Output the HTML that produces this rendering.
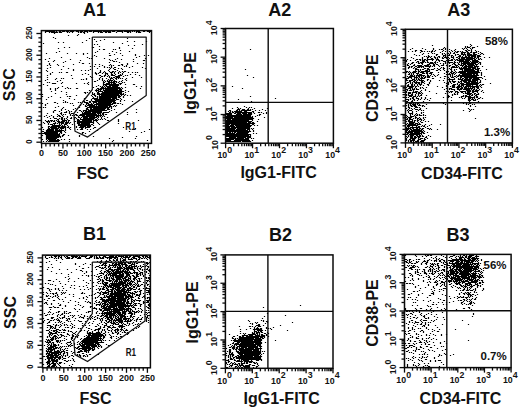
<!DOCTYPE html>
<html><head><meta charset="utf-8"><style>
html,body{margin:0;padding:0;background:#fff;width:520px;height:410px;overflow:hidden}
svg{display:block}
text{font-family:"Liberation Sans",sans-serif;fill:#111}
.tl{font-size:8.8px;font-weight:bold}
.sp{font-size:8.8px;font-weight:bold}
</style></head><body>
<svg width="520" height="410" viewBox="0 0 520 410" xmlns="http://www.w3.org/2000/svg">
<path transform="translate(.5 .5)" d="M45 31h9M56 31h0M59 31h1M62 31h2M66 31h2M70 31h3M76 31h2M80 31h2M84 31h3M89 31h2M93 31h8M103 31h7M112 31h2M117 31h5M124 31h6M132 31h0M134 31h0M136 31h3M143 31h1M147 31h3M45 32h0M49 32h0M51 32h6M59 32h2M67 32h0M69 32h0M72 32h0M78 32h0M80 32h1M83 32h1M87 32h0M93 32h0M98 32h0M100 32h2M105 32h1M108 32h2M116 32h0M122 32h0M127 32h1M130 32h0M136 32h0M138 32h2M149 32h0M54 33h0M84 33h0M78 34h0M68 35h0M77 35h0M53 37h0M55 38h0M89 38h0M127 38h0M94 39h0M104 39h0M86 40h0M100 40h0M96 41h0M127 41h0M134 41h0M146 41h0M58 42h0M63 42h0M82 42h0M113 42h0M43 43h0M122 43h0M94 44h0M97 44h0M142 44h0M470 44h0M128 45h0M134 45h0M432 45h0M471 45h0M99 46h0M465 46h0M467 46h0M470 46h0M477 46h0M64 47h0M69 47h0M92 47h1M119 47h0M444 47h0M465 47h0M467 47h2M472 47h2M58 48h0M119 48h0M132 48h0M412 48h0M422 48h0M433 48h0M443 48h0M445 48h0M462 48h0M464 48h0M466 48h0M470 48h0M472 48h0M99 49h0M103 49h1M113 49h0M115 49h0M250 49h0M410 49h0M425 49h0M433 49h0M439 49h0M441 49h1M445 49h0M449 49h0M455 49h0M463 49h0M467 49h0M471 49h0M120 50h0M415 50h1M420 50h1M432 50h0M435 50h0M443 50h0M447 50h0M451 50h0M454 50h0M465 50h1M468 50h1M471 50h0M475 50h0M59 51h0M97 51h0M112 51h0M129 51h0M408 51h0M412 51h0M415 51h0M421 51h1M424 51h0M427 51h0M429 51h0M431 51h1M434 51h0M442 51h0M445 51h0M449 51h0M452 51h0M455 51h0M457 51h1M460 51h0M462 51h0M466 51h1M471 51h0M476 51h0M478 51h0M56 52h0M95 52h0M116 52h0M420 52h0M431 52h0M440 52h0M450 52h0M454 52h0M456 52h1M461 52h4M467 52h1M470 52h1M473 52h3M480 52h0M46 53h0M67 53h0M76 53h0M83 53h0M87 53h0M109 53h0M120 53h0M423 53h0M428 53h0M432 53h0M434 53h0M442 53h0M444 53h0M447 53h1M450 53h0M453 53h1M461 53h1M464 53h0M467 53h2M473 53h1M478 53h0M481 53h1M83 54h0M114 54h0M135 54h0M414 54h0M422 54h0M436 54h1M442 54h0M445 54h0M449 54h0M455 54h0M457 54h1M461 54h4M467 54h4M473 54h3M480 54h0M483 54h0M94 55h0M109 55h1M122 55h0M135 55h0M144 55h0M148 55h0M416 55h0M419 55h0M428 55h0M436 55h0M443 55h2M447 55h2M451 55h1M455 55h0M459 55h1M463 55h0M465 55h0M467 55h8M477 55h2M92 56h0M96 56h0M139 56h0M424 56h0M426 56h0M428 56h1M431 56h0M434 56h0M438 56h1M443 56h0M445 56h0M447 56h0M451 56h0M453 56h0M458 56h2M462 56h0M465 56h1M468 56h1M471 56h4M477 56h3M61 57h0M87 57h0M136 57h0M411 57h0M422 57h0M427 57h1M430 57h0M434 57h1M437 57h0M439 57h0M442 57h0M444 57h2M448 57h0M451 57h2M456 57h1M459 57h0M461 57h11M474 57h1M477 57h1M484 57h0M489 57h0M49 58h0M89 58h0M91 58h0M104 58h0M117 58h0M145 58h0M413 58h0M422 58h0M427 58h0M431 58h1M435 58h0M437 58h0M442 58h1M446 58h1M449 58h0M453 58h0M458 58h1M461 58h3M466 58h8M476 58h0M478 58h0M480 58h0M45 59h0M70 59h0M109 59h0M115 59h0M121 59h0M133 59h0M407 59h0M416 59h1M419 59h1M422 59h0M424 59h1M427 59h6M436 59h2M448 59h0M451 59h1M454 59h0M456 59h1M459 59h13M474 59h1M478 59h1M481 59h0M54 60h0M80 60h0M110 60h0M112 60h0M143 60h1M406 60h0M410 60h0M415 60h0M420 60h0M422 60h2M426 60h1M432 60h0M436 60h0M438 60h1M441 60h1M446 60h0M448 60h4M455 60h0M457 60h6M465 60h4M472 60h5M48 61h0M53 61h0M65 61h0M113 61h1M116 61h0M133 61h0M406 61h0M417 61h1M422 61h2M427 61h0M435 61h0M439 61h0M443 61h2M448 61h0M454 61h0M459 61h9M470 61h0M472 61h6M63 62h0M79 62h0M109 62h0M119 62h0M412 62h1M416 62h0M418 62h0M420 62h3M425 62h0M427 62h1M430 62h2M434 62h1M437 62h0M445 62h0M447 62h5M454 62h1M457 62h0M459 62h0M461 62h0M463 62h6M471 62h6M479 62h1M49 63h0M82 63h1M89 63h0M127 63h0M137 63h0M143 63h0M408 63h0M411 63h1M418 63h1M421 63h1M429 63h4M435 63h0M440 63h0M443 63h0M445 63h0M447 63h0M449 63h0M453 63h1M458 63h0M461 63h14M478 63h0M480 63h0M49 64h0M57 64h0M73 64h0M95 64h0M99 64h0M110 64h0M121 64h1M127 64h0M407 64h0M410 64h0M414 64h0M422 64h0M427 64h2M433 64h1M436 64h1M443 64h0M447 64h0M452 64h0M454 64h1M458 64h1M461 64h0M463 64h2M467 64h6M475 64h2M480 64h0M47 65h0M50 65h0M58 65h0M102 65h0M109 65h0M111 65h0M113 65h0M118 65h1M122 65h0M126 65h0M407 65h1M413 65h1M417 65h4M424 65h4M430 65h0M433 65h1M438 65h0M441 65h2M446 65h0M449 65h1M455 65h2M460 65h3M465 65h1M468 65h6M476 65h0M63 66h0M90 66h0M94 66h0M99 66h0M104 66h0M111 66h0M124 66h0M126 66h0M132 66h0M409 66h0M411 66h1M415 66h1M418 66h5M425 66h5M432 66h0M434 66h0M439 66h0M447 66h0M449 66h0M452 66h2M456 66h0M458 66h0M462 66h0M464 66h8M474 66h4M482 66h0M50 67h0M104 67h0M107 67h0M109 67h0M111 67h0M114 67h1M129 67h0M142 67h0M408 67h1M411 67h0M414 67h0M417 67h2M421 67h0M423 67h0M429 67h0M441 67h0M443 67h0M451 67h6M459 67h0M461 67h0M463 67h3M468 67h7M477 67h0M47 68h0M68 68h0M97 68h0M110 68h0M113 68h0M118 68h0M121 68h0M145 68h0M408 68h0M413 68h0M415 68h1M424 68h1M427 68h1M434 68h0M437 68h0M440 68h0M443 68h1M449 68h0M451 68h0M459 68h11M472 68h3M477 68h2M61 69h0M73 69h0M90 69h0M109 69h0M114 69h1M122 69h0M245 69h0M415 69h3M420 69h0M422 69h1M427 69h2M431 69h2M438 69h1M443 69h0M447 69h0M450 69h1M454 69h0M456 69h0M460 69h2M464 69h9M475 69h3M486 69h0M46 70h0M73 70h0M81 70h0M85 70h0M88 70h0M100 70h0M108 70h0M117 70h0M415 70h0M418 70h0M420 70h0M425 70h2M429 70h0M436 70h1M440 70h0M444 70h0M451 70h0M454 70h0M462 70h0M464 70h10M477 70h1M480 70h0M47 71h0M100 71h0M104 71h0M109 71h0M112 71h1M115 71h0M119 71h0M122 71h0M124 71h1M406 71h1M409 71h0M413 71h3M418 71h1M421 71h8M446 71h0M448 71h0M451 71h1M455 71h0M459 71h19M52 72h0M59 72h0M61 72h0M66 72h1M95 72h0M99 72h1M103 72h0M105 72h0M110 72h2M114 72h0M118 72h0M120 72h0M123 72h0M128 72h0M132 72h0M135 72h0M137 72h0M406 72h0M408 72h0M410 72h0M412 72h3M418 72h0M420 72h3M426 72h1M430 72h2M438 72h0M446 72h0M450 72h1M453 72h1M456 72h0M458 72h7M467 72h12M481 72h0M50 73h0M85 73h0M95 73h1M98 73h0M102 73h0M105 73h2M111 73h0M114 73h0M118 73h0M122 73h0M409 73h0M411 73h0M413 73h0M416 73h2M422 73h2M426 73h1M429 73h2M444 73h0M449 73h0M451 73h2M455 73h0M460 73h17M481 73h0M50 74h0M82 74h0M88 74h0M96 74h0M105 74h0M107 74h0M111 74h1M115 74h0M120 74h0M122 74h0M130 74h0M135 74h0M408 74h1M411 74h0M413 74h0M417 74h0M419 74h2M427 74h0M431 74h0M433 74h0M438 74h0M446 74h0M448 74h2M452 74h0M454 74h0M459 74h0M462 74h9M473 74h1M476 74h1M481 74h0M47 75h0M71 75h0M99 75h1M104 75h1M108 75h0M111 75h3M118 75h3M125 75h0M127 75h0M139 75h0M247 75h0M410 75h2M414 75h0M416 75h8M427 75h1M430 75h0M434 75h0M437 75h0M450 75h0M452 75h0M456 75h0M458 75h20M481 75h0M90 76h0M101 76h1M104 76h0M107 76h0M109 76h0M115 76h4M123 76h0M407 76h0M409 76h5M416 76h0M418 76h1M421 76h0M423 76h0M425 76h0M427 76h2M432 76h0M435 76h0M444 76h1M447 76h0M450 76h0M452 76h0M454 76h1M457 76h1M460 76h16M484 76h0M47 77h0M91 77h1M100 77h0M109 77h0M111 77h0M113 77h1M116 77h3M132 77h0M141 77h0M253 77h0M408 77h3M414 77h3M419 77h0M421 77h1M424 77h1M427 77h2M440 77h0M448 77h0M451 77h2M456 77h0M460 77h1M464 77h17M56 78h0M61 78h0M63 78h0M72 78h0M86 78h0M99 78h0M102 78h0M106 78h0M110 78h2M115 78h1M118 78h0M120 78h0M122 78h0M126 78h0M406 78h2M411 78h0M414 78h0M416 78h0M418 78h0M420 78h4M432 78h1M444 78h0M449 78h0M454 78h0M458 78h0M460 78h0M462 78h1M465 78h2M469 78h2M473 78h5M482 78h0M47 79h0M55 79h0M81 79h0M83 79h0M86 79h0M92 79h0M99 79h0M102 79h0M108 79h0M110 79h0M113 79h0M116 79h0M125 79h0M406 79h0M412 79h2M416 79h0M418 79h1M421 79h0M427 79h1M448 79h6M458 79h4M464 79h6M472 79h7M485 79h0M45 80h0M60 80h0M97 80h0M102 80h0M104 80h0M107 80h0M109 80h3M114 80h0M122 80h0M126 80h0M406 80h1M409 80h3M414 80h1M417 80h0M419 80h4M427 80h0M430 80h0M439 80h0M443 80h0M449 80h0M452 80h0M461 80h9M472 80h5M480 80h0M57 81h0M94 81h1M103 81h0M105 81h0M107 81h2M111 81h0M113 81h3M119 81h0M121 81h0M409 81h1M413 81h1M416 81h0M421 81h1M424 81h0M430 81h0M449 81h1M452 81h3M458 81h0M460 81h1M463 81h3M468 81h7M477 81h0M480 81h0M47 82h0M49 82h0M62 82h0M88 82h0M103 82h1M108 82h6M116 82h0M118 82h0M122 82h0M124 82h0M407 82h1M410 82h0M412 82h0M414 82h5M421 82h2M429 82h0M444 82h0M447 82h1M450 82h0M453 82h1M458 82h1M461 82h0M464 82h5M471 82h6M479 82h1M52 83h3M61 83h0M76 83h0M84 83h0M87 83h0M103 83h0M106 83h3M111 83h0M113 83h2M119 83h2M406 83h0M410 83h0M412 83h0M415 83h1M418 83h1M421 83h0M424 83h0M429 83h0M446 83h0M448 83h0M451 83h0M457 83h0M460 83h3M466 83h12M490 83h0M43 84h0M88 84h0M103 84h15M120 84h0M125 84h0M133 84h1M408 84h0M411 84h1M414 84h0M417 84h0M419 84h2M427 84h1M447 84h1M453 84h2M457 84h0M459 84h0M461 84h16M480 84h0M482 84h1M47 85h0M98 85h0M103 85h0M105 85h1M109 85h9M407 85h1M411 85h1M414 85h0M417 85h0M420 85h0M423 85h0M428 85h0M446 85h0M452 85h2M458 85h1M461 85h2M466 85h4M472 85h0M476 85h1M479 85h0M481 85h0M62 86h0M96 86h0M100 86h0M102 86h0M104 86h0M106 86h4M112 86h5M136 86h0M141 86h0M232 86h0M407 86h6M415 86h1M418 86h0M437 86h0M446 86h0M450 86h0M452 86h2M457 86h4M463 86h0M465 86h13M480 86h0M58 87h0M67 87h0M93 87h0M101 87h2M105 87h0M107 87h12M121 87h0M125 87h0M406 87h0M409 87h3M415 87h0M420 87h0M422 87h0M426 87h0M442 87h0M447 87h0M452 87h2M456 87h3M461 87h1M464 87h2M468 87h0M470 87h0M472 87h2M476 87h2M481 87h0M50 88h0M55 88h0M57 88h0M65 88h0M68 88h0M70 88h0M76 88h1M97 88h1M100 88h20M122 88h0M140 88h0M242 88h0M408 88h2M412 88h0M414 88h0M416 88h0M420 88h0M423 88h0M446 88h0M449 88h2M457 88h1M460 88h2M464 88h8M474 88h0M477 88h1M50 89h0M55 89h0M96 89h0M98 89h3M103 89h0M105 89h12M119 89h2M406 89h1M410 89h0M412 89h2M416 89h2M425 89h0M444 89h0M449 89h0M451 89h3M457 89h4M463 89h6M471 89h0M473 89h1M476 89h0M479 89h0M55 90h0M89 90h0M95 90h3M100 90h0M103 90h18M125 90h0M407 90h0M409 90h2M413 90h0M421 90h0M425 90h0M447 90h0M454 90h0M459 90h0M466 90h4M472 90h1M475 90h3M482 90h0M51 91h0M61 91h0M96 91h0M98 91h4M104 91h19M128 91h0M406 91h0M413 91h0M415 91h2M420 91h0M429 91h0M446 91h0M448 91h0M450 91h2M455 91h2M460 91h5M467 91h3M472 91h5M481 91h0M66 92h0M84 92h1M87 92h0M92 92h0M97 92h1M102 92h19M125 92h0M406 92h0M408 92h2M412 92h4M418 92h1M421 92h0M449 92h0M451 92h0M455 92h0M457 92h1M461 92h1M465 92h0M467 92h2M472 92h1M477 92h0M483 92h0M55 93h0M85 93h0M92 93h0M94 93h0M97 93h2M101 93h20M123 93h0M408 93h2M412 93h0M416 93h0M418 93h2M422 93h0M436 93h0M445 93h0M447 93h0M454 93h0M457 93h0M463 93h0M465 93h6M474 93h1M478 93h0M42 94h0M66 94h0M92 94h2M97 94h21M120 94h3M125 94h0M406 94h0M408 94h0M411 94h1M415 94h0M418 94h0M421 94h0M452 94h0M454 94h1M457 94h0M467 94h3M472 94h0M474 94h0M476 94h2M76 95h0M91 95h0M94 95h1M99 95h0M101 95h18M121 95h0M124 95h0M127 95h0M130 95h0M406 95h0M408 95h4M415 95h0M418 95h0M420 95h1M426 95h0M448 95h0M452 95h0M463 95h0M465 95h1M469 95h0M471 95h1M475 95h1M42 96h0M51 96h0M67 96h0M69 96h1M92 96h0M95 96h0M97 96h0M99 96h17M118 96h2M123 96h0M250 96h0M409 96h2M413 96h2M417 96h0M419 96h0M448 96h1M461 96h2M465 96h5M474 96h0M476 96h1M48 97h0M60 97h0M93 97h0M97 97h0M99 97h17M118 97h1M123 97h0M406 97h0M408 97h0M412 97h1M416 97h0M421 97h0M425 97h0M443 97h0M447 97h1M451 97h0M459 97h0M461 97h0M465 97h0M468 97h6M476 97h1M480 97h0M69 98h0M84 98h0M92 98h5M99 98h11M112 98h4M120 98h0M275 98h0M410 98h0M412 98h1M416 98h2M421 98h0M425 98h0M430 98h0M462 98h0M464 98h0M468 98h2M472 98h0M474 98h0M478 98h1M482 98h0M46 99h0M74 99h0M91 99h0M94 99h20M116 99h2M121 99h0M238 99h0M406 99h2M410 99h0M413 99h1M418 99h0M420 99h0M424 99h0M427 99h0M468 99h1M471 99h2M475 99h0M477 99h0M63 100h0M86 100h1M91 100h0M95 100h20M120 100h0M124 100h0M408 100h0M412 100h0M414 100h0M417 100h0M429 100h0M451 100h0M468 100h2M473 100h2M65 101h0M83 101h1M89 101h1M92 101h22M120 101h0M132 101h0M251 101h0M406 101h1M411 101h1M423 101h0M469 101h0M478 101h0M54 102h1M63 102h0M65 102h0M67 102h0M78 102h0M80 102h0M84 102h3M89 102h1M93 102h3M98 102h13M113 102h2M409 102h0M411 102h0M416 102h0M420 102h0M464 102h0M469 102h0M42 103h0M47 103h0M57 103h0M70 103h0M72 103h0M86 103h2M91 103h0M93 103h0M96 103h14M112 103h3M117 103h1M120 103h0M406 103h0M409 103h2M413 103h0M415 103h0M417 103h1M443 103h0M463 103h0M466 103h0M469 103h1M45 104h0M83 104h0M86 104h0M88 104h4M94 104h18M122 104h0M408 104h0M410 104h0M412 104h3M417 104h0M419 104h0M426 104h0M445 104h0M466 104h0M468 104h0M472 104h0M474 104h0M45 105h0M73 105h0M80 105h0M85 105h0M87 105h7M96 105h0M98 105h12M114 105h0M116 105h0M406 105h0M408 105h0M410 105h1M413 105h2M418 105h2M422 105h1M470 105h0M58 106h0M85 106h1M89 106h18M109 106h2M113 106h0M115 106h0M244 106h0M408 106h0M411 106h1M414 106h2M422 106h0M424 106h0M470 106h0M475 106h0M43 107h0M45 107h0M55 107h0M63 107h0M79 107h0M87 107h22M111 107h0M237 107h0M246 107h0M249 107h0M251 107h0M408 107h1M415 107h2M419 107h0M62 108h0M75 108h0M86 108h1M90 108h1M93 108h12M107 108h1M111 108h0M232 108h0M238 108h0M240 108h0M248 108h0M254 108h0M267 108h0M406 108h0M409 108h0M411 108h0M414 108h0M420 108h0M426 108h0M468 108h0M61 109h0M65 109h0M73 109h0M86 109h2M90 109h14M107 109h2M114 109h0M136 109h0M237 109h2M242 109h2M247 109h1M250 109h0M252 109h0M262 109h0M408 109h0M412 109h0M415 109h2M419 109h1M469 109h0M471 109h0M473 109h0M54 110h1M61 110h0M68 110h0M79 110h1M83 110h3M88 110h18M111 110h0M229 110h1M236 110h1M239 110h0M241 110h9M255 110h0M259 110h0M265 110h0M407 110h0M409 110h2M418 110h0M421 110h0M423 110h0M463 110h0M470 110h0M53 111h0M59 111h0M66 111h0M69 111h0M71 111h0M81 111h0M83 111h0M85 111h16M109 111h0M228 111h0M230 111h0M232 111h0M234 111h7M244 111h2M252 111h1M408 111h0M412 111h0M416 111h0M469 111h0M53 112h0M61 112h0M64 112h2M69 112h0M77 112h0M82 112h0M84 112h6M92 112h9M103 112h5M116 112h0M127 112h0M136 112h0M229 112h1M232 112h1M235 112h16M253 112h0M258 112h1M261 112h0M266 112h0M408 112h0M412 112h0M421 112h0M423 112h0M47 113h0M60 113h1M69 113h0M71 113h2M82 113h13M97 113h3M102 113h1M226 113h5M234 113h1M237 113h3M242 113h4M248 113h3M254 113h0M263 113h0M266 113h0M409 113h3M416 113h0M421 113h0M57 114h0M61 114h0M63 114h0M65 114h0M70 114h0M75 114h1M80 114h16M98 114h0M100 114h0M102 114h1M105 114h1M127 114h0M226 114h5M236 114h5M243 114h8M259 114h1M410 114h0M412 114h0M415 114h0M417 114h0M419 114h0M423 114h0M46 115h0M51 115h0M58 115h1M62 115h0M70 115h0M72 115h0M74 115h0M76 115h1M79 115h5M86 115h15M103 115h0M227 115h23M257 115h0M259 115h0M406 115h0M410 115h0M414 115h0M416 115h1M419 115h2M423 115h0M425 115h0M44 116h0M49 116h0M53 116h0M57 116h0M59 116h1M63 116h0M67 116h0M78 116h0M82 116h12M96 116h2M100 116h0M102 116h0M104 116h0M226 116h24M252 116h0M255 116h0M407 116h0M410 116h3M415 116h0M47 117h0M53 117h0M61 117h1M67 117h0M71 117h0M74 117h1M78 117h1M81 117h0M83 117h4M89 117h7M98 117h0M101 117h0M107 117h0M226 117h6M234 117h18M264 117h0M406 117h0M408 117h3M415 117h1M419 117h0M423 117h0M425 117h0M50 118h0M54 118h2M59 118h0M61 118h1M64 118h0M66 118h0M70 118h1M74 118h0M76 118h0M80 118h0M83 118h11M97 118h0M101 118h0M104 118h0M226 118h27M407 118h0M409 118h1M413 118h0M415 118h0M417 118h1M420 118h0M423 118h0M475 118h0M57 119h1M61 119h1M64 119h0M67 119h0M74 119h0M77 119h1M80 119h13M95 119h1M98 119h0M100 119h0M102 119h0M105 119h0M118 119h0M227 119h3M232 119h20M258 119h0M406 119h1M409 119h3M417 119h0M419 119h2M424 119h0M45 120h0M48 120h0M50 120h2M54 120h0M56 120h0M58 120h0M62 120h4M68 120h1M77 120h2M82 120h9M93 120h4M107 120h1M118 120h0M138 120h0M226 120h22M252 120h0M408 120h1M412 120h0M414 120h1M417 120h1M421 120h0M423 120h0M46 121h3M51 121h0M53 121h1M57 121h2M61 121h3M66 121h0M68 121h0M74 121h1M77 121h14M93 121h0M96 121h0M118 121h0M226 121h25M257 121h0M406 121h0M408 121h4M414 121h0M417 121h0M420 121h0M425 121h0M428 121h0M43 122h0M47 122h0M49 122h0M55 122h0M58 122h5M65 122h3M70 122h0M77 122h16M97 122h0M128 122h0M226 122h20M248 122h2M252 122h1M409 122h5M418 122h0M421 122h1M44 123h0M48 123h0M53 123h2M57 123h0M59 123h0M61 123h2M65 123h2M69 123h0M77 123h2M81 123h8M93 123h0M98 123h0M118 123h0M226 123h28M407 123h0M409 123h4M415 123h2M419 123h0M48 124h0M50 124h2M54 124h0M59 124h0M61 124h0M64 124h2M72 124h0M78 124h11M91 124h1M99 124h0M226 124h3M231 124h18M252 124h1M406 124h0M408 124h7M417 124h3M425 124h0M431 124h0M440 124h0M52 125h8M62 125h0M64 125h0M67 125h0M78 125h12M93 125h0M226 125h2M230 125h3M235 125h16M254 125h0M257 125h0M407 125h10M422 125h0M424 125h0M429 125h0M48 126h1M51 126h8M61 126h4M68 126h0M76 126h0M80 126h5M87 126h3M226 126h8M236 126h14M407 126h2M412 126h0M416 126h0M418 126h1M421 126h0M423 126h1M427 126h0M42 127h0M48 127h0M50 127h6M58 127h7M67 127h1M70 127h0M76 127h0M79 127h4M85 127h4M94 127h1M123 127h0M226 127h3M231 127h18M406 127h0M408 127h0M410 127h9M425 127h0M48 128h1M51 128h7M60 128h3M65 128h0M69 128h0M81 128h1M85 128h0M93 128h0M135 128h0M226 128h9M237 128h12M251 128h0M253 128h0M406 128h4M412 128h1M416 128h1M419 128h1M422 128h1M427 128h1M430 128h0M43 129h0M47 129h6M55 129h2M59 129h0M61 129h0M65 129h0M70 129h0M77 129h0M80 129h2M87 129h0M90 129h0M149 129h0M226 129h8M236 129h9M247 129h2M252 129h0M406 129h2M410 129h1M413 129h6M421 129h1M429 129h0M431 129h0M437 129h0M46 130h7M55 130h8M65 130h0M97 130h0M226 130h21M249 130h0M253 130h0M406 130h1M409 130h0M411 130h10M423 130h0M42 131h1M46 131h15M64 131h0M89 131h0M129 131h0M144 131h0M226 131h24M253 131h0M406 131h0M408 131h14M424 131h0M44 132h13M60 132h1M65 132h0M82 132h1M141 132h0M226 132h1M229 132h1M232 132h0M234 132h1M237 132h11M406 132h6M414 132h5M421 132h2M427 132h0M42 133h15M59 133h0M61 133h0M82 133h0M85 133h0M226 133h8M236 133h11M253 133h0M256 133h0M407 133h1M410 133h11M423 133h1M45 134h14M63 134h1M226 134h24M406 134h1M409 134h10M421 134h0M42 135h0M46 135h13M62 135h1M68 135h0M79 135h0M226 135h22M250 135h0M408 135h0M410 135h3M416 135h1M419 135h1M422 135h0M428 135h0M46 136h14M62 136h0M79 136h0M93 136h0M136 136h0M226 136h24M406 136h0M408 136h0M410 136h2M414 136h1M417 136h3M422 136h1M426 136h0M430 136h0M46 137h12M60 137h0M122 137h0M229 137h6M237 137h8M247 137h3M407 137h0M410 137h2M414 137h2M418 137h1M425 137h1M46 138h10M109 138h0M135 138h0M226 138h17M245 138h3M251 138h0M253 138h0M406 138h0M410 138h5M418 138h0M420 138h2M424 138h0M427 138h0M42 139h0M46 139h0M48 139h7M57 139h1M61 139h0M64 139h0M69 139h0M226 139h7M235 139h13M406 139h0M409 139h1M412 139h2M418 139h2M424 139h1M47 140h0M49 140h10M113 140h0M147 140h0M226 140h4M234 140h15M252 140h0M406 140h0M408 140h0M410 140h4M417 140h1M421 140h3M43 141h0M46 141h0M48 141h10M69 141h0M112 141h0M226 141h14M242 141h8M408 141h0M410 141h1M413 141h0M415 141h3M420 141h3M411 142h0M413 142h1M416 142h0M418 142h0M421 142h0M423 142h0M46 255h4M52 255h9M63 255h0M68 255h1M71 255h3M76 255h0M78 255h0M80 255h0M82 255h0M86 255h1M90 255h2M95 255h1M99 255h3M104 255h0M106 255h0M108 255h0M110 255h3M116 255h3M121 255h0M123 255h8M133 255h0M135 255h2M139 255h7M149 255h0M405 255h0M415 255h0M425 255h0M427 255h1M430 255h1M441 255h0M453 255h1M460 255h0M463 255h1M466 255h0M469 255h4M476 255h0M45 256h0M51 256h0M54 256h2M58 256h1M61 256h0M64 256h0M66 256h1M71 256h6M79 256h0M81 256h5M90 256h2M94 256h0M96 256h0M99 256h0M103 256h2M109 256h4M115 256h1M118 256h5M125 256h2M129 256h1M133 256h6M142 256h1M145 256h2M149 256h0M416 256h0M422 256h0M426 256h0M436 256h0M443 256h0M450 256h2M456 256h0M458 256h0M460 256h0M462 256h0M465 256h1M468 256h3M475 256h3M45 257h0M49 257h0M51 257h1M55 257h0M58 257h0M60 257h1M65 257h0M67 257h2M72 257h1M75 257h1M78 257h2M85 257h0M89 257h2M94 257h0M96 257h1M99 257h1M102 257h1M105 257h12M121 257h0M123 257h6M132 257h2M138 257h2M143 257h0M145 257h0M147 257h2M431 257h0M435 257h0M445 257h0M449 257h0M455 257h0M459 257h4M465 257h1M468 257h2M472 257h2M476 257h0M46 258h1M54 258h0M56 258h0M58 258h0M61 258h0M66 258h3M71 258h1M77 258h3M86 258h3M94 258h0M96 258h2M100 258h3M107 258h0M109 258h2M114 258h1M117 258h0M120 258h0M122 258h0M125 258h0M128 258h0M131 258h0M133 258h3M139 258h0M141 258h1M144 258h0M146 258h0M149 258h0M424 258h0M433 258h0M436 258h0M439 258h0M451 258h0M456 258h0M459 258h2M464 258h0M467 258h2M471 258h7M62 259h0M109 259h0M113 259h0M116 259h1M120 259h0M123 259h2M128 259h4M136 259h0M138 259h1M147 259h0M405 259h1M409 259h1M416 259h0M418 259h1M429 259h0M436 259h0M438 259h0M441 259h1M452 259h10M464 259h1M468 259h2M472 259h3M477 259h0M481 259h0M56 260h0M101 260h0M106 260h0M109 260h1M113 260h1M116 260h1M120 260h0M122 260h3M137 260h0M407 260h0M409 260h0M413 260h0M424 260h0M427 260h1M431 260h0M434 260h2M439 260h1M443 260h1M448 260h10M460 260h14M476 260h0M478 260h0M481 260h0M49 261h0M97 261h0M100 261h1M105 261h3M111 261h0M115 261h0M118 261h0M120 261h1M123 261h0M126 261h0M130 261h1M133 261h0M135 261h1M141 261h0M143 261h0M405 261h1M409 261h0M411 261h0M416 261h0M418 261h0M423 261h2M427 261h0M434 261h0M436 261h0M439 261h1M444 261h0M446 261h0M450 261h3M456 261h3M461 261h1M464 261h5M471 261h2M475 261h0M477 261h0M46 262h0M60 262h0M99 262h0M101 262h0M105 262h0M109 262h2M114 262h0M116 262h0M118 262h7M127 262h1M130 262h0M134 262h0M138 262h1M146 262h1M149 262h0M406 262h1M409 262h1M416 262h1M422 262h0M426 262h1M441 262h0M443 262h0M445 262h1M449 262h0M452 262h0M455 262h3M460 262h2M464 262h0M466 262h6M478 262h0M484 262h0M75 263h0M85 263h0M100 263h0M103 263h3M112 263h1M115 263h1M118 263h4M124 263h1M128 263h2M132 263h0M134 263h0M136 263h1M146 263h2M408 263h0M411 263h1M414 263h1M421 263h0M425 263h1M430 263h0M432 263h0M434 263h0M437 263h1M443 263h0M447 263h0M449 263h19M470 263h0M472 263h6M480 263h0M51 264h0M75 264h0M83 264h0M90 264h0M102 264h1M105 264h0M109 264h0M112 264h0M114 264h5M121 264h5M131 264h3M143 264h0M147 264h0M421 264h0M426 264h0M431 264h2M435 264h0M437 264h0M444 264h1M447 264h0M452 264h2M456 264h5M463 264h9M474 264h1M477 264h1M92 265h0M99 265h0M101 265h1M104 265h2M109 265h7M118 265h2M122 265h0M125 265h2M129 265h2M134 265h0M136 265h0M140 265h0M146 265h0M407 265h0M409 265h0M411 265h0M413 265h1M430 265h0M433 265h0M437 265h1M441 265h1M447 265h2M451 265h0M453 265h7M462 265h7M471 265h0M473 265h0M476 265h1M479 265h0M79 266h0M96 266h2M105 266h0M108 266h1M113 266h0M115 266h0M117 266h0M119 266h1M122 266h0M125 266h1M128 266h1M131 266h5M138 266h0M140 266h0M142 266h1M145 266h0M147 266h1M408 266h0M412 266h1M415 266h0M417 266h0M427 266h0M430 266h2M435 266h0M438 266h0M444 266h0M446 266h0M450 266h0M452 266h26M48 267h0M52 267h0M88 267h0M95 267h0M99 267h1M102 267h0M104 267h1M108 267h0M110 267h0M112 267h0M114 267h1M117 267h4M123 267h1M126 267h6M134 267h0M137 267h0M141 267h0M148 267h0M405 267h1M410 267h4M418 267h0M425 267h1M429 267h0M432 267h0M438 267h1M444 267h0M447 267h0M449 267h1M453 267h1M456 267h16M474 267h4M82 268h1M101 268h2M106 268h0M109 268h1M117 268h5M124 268h8M134 268h1M137 268h0M139 268h1M147 268h0M409 268h2M430 268h0M433 268h0M436 268h0M438 268h0M447 268h0M450 268h0M452 268h1M456 268h1M459 268h2M463 268h13M478 268h0M480 268h0M483 268h0M47 269h0M59 269h0M67 269h0M76 269h0M96 269h0M105 269h0M108 269h4M114 269h6M123 269h1M126 269h2M130 269h3M137 269h0M140 269h0M142 269h0M144 269h0M146 269h1M149 269h0M411 269h1M415 269h0M417 269h0M419 269h0M423 269h1M429 269h1M432 269h0M434 269h0M438 269h0M442 269h2M450 269h2M454 269h6M462 269h0M464 269h7M473 269h4M481 269h0M80 270h1M101 270h0M106 270h2M111 270h3M116 270h2M120 270h0M122 270h1M125 270h0M127 270h1M133 270h1M138 270h0M142 270h0M148 270h1M408 270h0M417 270h0M424 270h0M428 270h0M430 270h0M432 270h0M436 270h0M439 270h0M441 270h0M443 270h1M449 270h4M455 270h1M458 270h3M463 270h10M475 270h0M478 270h1M483 270h0M51 271h0M82 271h0M86 271h0M91 271h0M100 271h0M104 271h1M107 271h3M112 271h1M115 271h12M129 271h0M134 271h0M139 271h0M144 271h0M146 271h0M149 271h0M415 271h0M417 271h0M422 271h0M424 271h0M428 271h0M430 271h0M432 271h0M434 271h1M437 271h1M444 271h0M446 271h2M450 271h7M459 271h12M474 271h5M481 271h0M71 272h0M86 272h0M101 272h0M104 272h0M106 272h0M108 272h1M111 272h0M113 272h9M124 272h6M133 272h4M140 272h2M146 272h0M415 272h0M417 272h1M424 272h1M432 272h0M435 272h0M441 272h1M446 272h0M448 272h0M450 272h4M456 272h2M460 272h8M470 272h0M473 272h0M475 272h0M480 272h0M482 272h0M56 273h0M61 273h0M84 273h0M99 273h4M107 273h0M109 273h11M122 273h1M125 273h3M130 273h2M134 273h0M136 273h1M139 273h1M142 273h0M148 273h0M409 273h1M415 273h0M420 273h0M424 273h2M429 273h0M431 273h1M434 273h0M438 273h0M440 273h0M442 273h0M446 273h2M450 273h7M459 273h10M471 273h5M478 273h0M481 273h0M68 274h0M97 274h0M103 274h0M106 274h0M108 274h2M112 274h4M119 274h4M126 274h3M136 274h2M140 274h0M142 274h0M145 274h0M411 274h0M417 274h1M426 274h0M432 274h1M439 274h0M443 274h0M446 274h1M449 274h4M455 274h1M459 274h11M472 274h3M479 274h1M82 275h0M86 275h0M88 275h0M91 275h0M94 275h0M100 275h1M105 275h1M108 275h0M110 275h13M126 275h3M132 275h1M136 275h1M140 275h0M143 275h0M149 275h0M410 275h0M412 275h0M419 275h0M421 275h0M428 275h0M438 275h0M440 275h0M442 275h0M444 275h0M447 275h1M450 275h0M453 275h5M461 275h7M470 275h7M479 275h0M481 275h1M68 276h0M88 276h0M96 276h0M98 276h1M104 276h0M106 276h0M110 276h0M112 276h1M115 276h8M125 276h2M129 276h1M133 276h1M136 276h2M143 276h0M412 276h0M426 276h0M429 276h0M434 276h0M437 276h0M445 276h4M451 276h0M453 276h0M455 276h11M468 276h7M477 276h3M482 276h0M65 277h0M98 277h0M101 277h0M104 277h0M106 277h1M109 277h0M111 277h0M113 277h0M115 277h7M124 277h2M128 277h0M130 277h0M134 277h2M145 277h1M148 277h1M405 277h0M408 277h0M423 277h0M428 277h1M436 277h0M439 277h0M442 277h0M444 277h0M446 277h0M449 277h0M451 277h4M457 277h2M461 277h8M471 277h5M478 277h3M483 277h0M69 278h0M78 278h0M92 278h0M99 278h0M104 278h0M106 278h1M109 278h0M111 278h2M116 278h4M122 278h3M128 278h2M133 278h2M138 278h1M141 278h0M146 278h0M148 278h1M412 278h0M418 278h0M430 278h0M434 278h0M440 278h0M445 278h0M447 278h0M450 278h10M462 278h7M471 278h0M473 278h2M479 278h0M56 279h0M68 279h0M97 279h1M100 279h0M102 279h0M105 279h1M109 279h0M112 279h2M116 279h5M123 279h0M125 279h3M130 279h0M133 279h1M136 279h0M139 279h0M149 279h0M412 279h0M418 279h0M428 279h0M430 279h0M433 279h0M443 279h0M446 279h1M451 279h1M454 279h8M464 279h0M467 279h6M475 279h0M477 279h1M48 280h2M83 280h0M90 280h0M100 280h0M102 280h1M106 280h5M113 280h0M115 280h2M119 280h0M121 280h0M123 280h6M131 280h0M134 280h0M137 280h0M139 280h0M146 280h2M410 280h0M413 280h0M423 280h0M436 280h0M439 280h0M446 280h0M448 280h3M453 280h0M455 280h6M463 280h0M465 280h2M469 280h3M474 280h3M479 280h0M481 280h1M53 281h0M59 281h0M68 281h0M74 281h0M98 281h1M102 281h1M109 281h1M112 281h0M114 281h3M119 281h3M124 281h2M128 281h0M130 281h3M137 281h3M147 281h0M149 281h0M405 281h0M423 281h0M429 281h0M435 281h0M437 281h0M441 281h1M445 281h0M448 281h3M453 281h4M459 281h0M461 281h7M471 281h6M482 281h0M86 282h0M93 282h0M97 282h0M102 282h0M104 282h3M112 282h0M114 282h0M116 282h0M118 282h7M127 282h0M129 282h1M132 282h0M134 282h0M137 282h0M143 282h0M146 282h0M427 282h0M430 282h0M434 282h2M441 282h3M449 282h0M454 282h0M456 282h0M458 282h2M462 282h2M468 282h8M479 282h1M482 282h1M45 283h0M48 283h0M60 283h0M88 283h0M92 283h0M98 283h0M100 283h0M102 283h1M105 283h2M110 283h15M127 283h4M135 283h0M137 283h0M146 283h0M406 283h1M409 283h1M412 283h0M437 283h0M440 283h0M444 283h0M451 283h0M455 283h4M462 283h0M465 283h5M475 283h0M477 283h0M479 283h1M50 284h0M52 284h0M65 284h0M103 284h3M109 284h0M111 284h12M125 284h2M129 284h2M133 284h1M136 284h0M138 284h0M141 284h1M147 284h1M413 284h0M428 284h0M436 284h1M442 284h0M444 284h0M449 284h1M456 284h1M459 284h1M465 284h2M469 284h2M475 284h2M482 284h0M55 285h0M71 285h0M74 285h0M86 285h0M96 285h0M104 285h3M109 285h11M122 285h6M130 285h0M132 285h0M135 285h0M137 285h1M140 285h0M144 285h0M147 285h0M418 285h0M428 285h0M436 285h0M441 285h0M444 285h0M453 285h0M460 285h1M463 285h0M465 285h0M467 285h2M471 285h0M473 285h1M477 285h1M480 285h0M62 286h0M79 286h0M83 286h0M93 286h0M99 286h0M101 286h0M103 286h0M105 286h0M107 286h4M113 286h6M122 286h1M125 286h1M128 286h0M131 286h0M133 286h1M137 286h2M144 286h0M149 286h0M415 286h0M433 286h0M440 286h0M445 286h0M451 286h0M455 286h0M461 286h1M464 286h2M470 286h2M477 286h0M480 286h0M43 287h0M70 287h0M87 287h0M103 287h1M106 287h0M108 287h0M110 287h3M115 287h6M123 287h3M129 287h1M133 287h1M136 287h0M146 287h0M415 287h0M425 287h0M433 287h0M452 287h0M457 287h0M459 287h0M463 287h0M465 287h0M467 287h0M469 287h0M471 287h0M477 287h0M47 288h1M55 288h0M58 288h0M63 288h0M74 288h0M90 288h0M98 288h0M100 288h0M102 288h1M106 288h1M112 288h3M117 288h3M122 288h2M127 288h5M136 288h0M139 288h0M143 288h0M145 288h4M420 288h0M434 288h0M443 288h2M458 288h0M460 288h0M464 288h0M467 288h0M470 288h0M475 288h0M483 288h0M49 289h0M51 289h0M55 289h0M58 289h0M80 289h0M84 289h0M88 289h0M96 289h0M99 289h1M102 289h2M107 289h1M110 289h3M115 289h4M121 289h4M127 289h1M130 289h1M133 289h2M138 289h1M145 289h0M149 289h0M407 289h0M431 289h0M439 289h0M441 289h0M446 289h0M463 289h1M467 289h0M469 289h0M473 289h0M475 289h0M483 289h0M49 290h0M59 290h0M62 290h0M66 290h0M99 290h0M106 290h2M111 290h1M114 290h0M116 290h8M126 290h4M140 290h1M146 290h3M419 290h0M434 290h0M443 290h0M456 290h0M460 290h0M462 290h1M466 290h2M470 290h2M475 290h0M482 290h0M50 291h0M92 291h0M101 291h0M105 291h0M108 291h4M114 291h1M117 291h9M128 291h0M134 291h1M137 291h0M139 291h1M148 291h1M413 291h1M417 291h0M432 291h0M439 291h0M474 291h0M43 292h0M46 292h0M56 292h0M61 292h0M63 292h0M65 292h0M82 292h0M97 292h1M100 292h0M102 292h6M111 292h1M114 292h7M123 292h7M132 292h0M135 292h1M140 292h0M146 292h3M433 292h0M461 292h0M465 292h0M467 292h1M470 292h0M474 292h0M476 292h0M47 293h0M50 293h0M52 293h1M55 293h1M62 293h0M64 293h0M81 293h1M84 293h0M95 293h0M99 293h1M103 293h3M108 293h0M110 293h15M127 293h0M130 293h4M140 293h0M143 293h0M149 293h0M411 293h0M422 293h0M431 293h2M459 293h0M463 293h1M466 293h0M468 293h1M43 294h0M53 294h0M57 294h0M61 294h0M69 294h0M73 294h0M92 294h0M94 294h0M100 294h0M102 294h1M107 294h1M110 294h15M127 294h2M132 294h0M134 294h0M136 294h1M139 294h1M147 294h0M149 294h0M408 294h1M418 294h0M433 294h0M442 294h0M459 294h0M464 294h0M467 294h3M472 294h1M477 294h0M46 295h0M48 295h0M55 295h0M57 295h0M89 295h0M91 295h0M99 295h0M104 295h0M106 295h0M109 295h3M114 295h12M128 295h2M132 295h0M136 295h3M144 295h0M418 295h0M429 295h1M445 295h0M468 295h0M470 295h1M475 295h0M46 296h1M50 296h0M53 296h0M55 296h0M58 296h0M73 296h0M86 296h0M98 296h0M104 296h0M106 296h17M125 296h7M135 296h0M139 296h0M143 296h1M449 296h0M457 296h0M460 296h0M463 296h0M468 296h0M470 296h0M472 296h0M52 297h0M57 297h0M65 297h0M83 297h0M87 297h0M95 297h0M97 297h0M100 297h1M103 297h2M107 297h2M111 297h4M117 297h6M125 297h3M130 297h3M138 297h0M142 297h0M144 297h0M147 297h2M408 297h0M410 297h0M416 297h0M427 297h0M454 297h0M458 297h1M461 297h2M465 297h2M469 297h0M476 297h0M48 298h1M58 298h0M79 298h0M83 298h0M92 298h0M95 298h0M101 298h1M108 298h18M128 298h1M131 298h0M138 298h1M145 298h0M147 298h0M149 298h0M438 298h0M450 298h0M457 298h0M466 298h0M472 298h0M475 298h0M44 299h0M59 299h0M62 299h0M86 299h0M100 299h4M106 299h9M117 299h8M127 299h1M131 299h1M135 299h0M149 299h0M407 299h0M412 299h0M415 299h0M440 299h0M463 299h1M467 299h0M469 299h0M471 299h0M474 299h1M47 300h0M53 300h1M70 300h0M96 300h0M102 300h23M127 300h0M131 300h0M133 300h1M136 300h4M146 300h3M417 300h0M423 300h0M430 300h0M443 300h1M458 300h0M460 300h1M464 300h0M466 300h0M470 300h0M63 301h0M75 301h0M85 301h0M88 301h0M95 301h0M99 301h0M102 301h6M110 301h11M123 301h2M127 301h1M131 301h1M134 301h0M139 301h0M143 301h0M147 301h1M428 301h0M453 301h0M463 301h0M467 301h0M469 301h0M471 301h0M45 302h1M68 302h0M78 302h0M87 302h0M89 302h1M96 302h0M98 302h1M101 302h0M104 302h2M108 302h6M116 302h8M126 302h2M131 302h0M133 302h0M143 302h1M146 302h2M413 302h0M415 302h0M433 302h0M438 302h0M442 302h0M446 302h0M449 302h0M461 302h1M470 302h1M473 302h0M44 303h0M46 303h0M51 303h0M58 303h0M90 303h0M94 303h0M100 303h0M102 303h3M107 303h0M109 303h15M126 303h5M134 303h2M138 303h1M143 303h0M149 303h0M461 303h0M464 303h0M469 303h2M474 303h0M47 304h0M51 304h0M60 304h0M78 304h0M96 304h4M102 304h0M104 304h4M110 304h15M127 304h0M130 304h0M133 304h0M135 304h0M140 304h1M148 304h1M432 304h1M436 304h0M443 304h0M446 304h0M462 304h0M466 304h0M468 304h0M470 304h0M59 305h1M65 305h0M75 305h0M80 305h0M96 305h0M99 305h0M101 305h0M103 305h2M107 305h0M109 305h23M134 305h2M140 305h0M148 305h1M300 305h0M412 305h0M417 305h0M427 305h0M472 305h0M53 306h0M65 306h0M83 306h0M90 306h1M101 306h3M106 306h10M118 306h11M131 306h0M133 306h0M140 306h0M146 306h0M149 306h0M428 306h0M430 306h0M49 307h2M54 307h1M57 307h1M82 307h0M90 307h0M94 307h0M101 307h0M103 307h3M108 307h6M116 307h0M118 307h5M125 307h0M128 307h0M132 307h2M147 307h1M263 307h0M437 307h0M468 307h1M62 308h0M74 308h0M93 308h3M99 308h0M102 308h8M113 308h4M119 308h5M126 308h4M135 308h0M138 308h0M140 308h0M148 308h1M405 308h0M415 308h0M420 308h1M431 308h0M444 308h0M463 308h1M469 308h0M50 309h0M75 309h0M79 309h0M96 309h0M99 309h2M104 309h24M130 309h1M135 309h0M141 309h0M405 309h0M416 309h0M426 309h0M430 309h0M441 309h0M445 309h0M456 309h0M471 309h0M92 310h0M100 310h1M103 310h6M111 310h0M113 310h9M124 310h0M126 310h2M130 310h0M132 310h0M138 310h0M142 310h0M146 310h0M148 310h0M407 310h0M411 310h1M414 310h0M432 310h1M441 310h0M444 310h0M49 311h0M58 311h1M64 311h0M66 311h0M77 311h0M88 311h2M97 311h0M102 311h1M107 311h0M109 311h10M122 311h4M128 311h2M132 311h2M136 311h1M139 311h0M141 311h0M406 311h1M409 311h0M412 311h0M416 311h0M419 311h0M433 311h0M48 312h0M50 312h0M56 312h0M58 312h0M64 312h0M69 312h1M86 312h0M88 312h0M96 312h0M102 312h0M104 312h7M113 312h7M122 312h3M129 312h2M134 312h2M138 312h0M141 312h0M145 312h1M148 312h1M413 312h0M419 312h0M431 312h0M442 312h0M44 313h0M53 313h0M62 313h0M64 313h0M66 313h0M68 313h0M96 313h0M99 313h0M101 313h14M117 313h3M122 313h3M128 313h4M134 313h0M147 313h0M267 313h0M410 313h1M421 313h0M428 313h0M473 313h0M47 314h0M49 314h0M52 314h0M58 314h0M61 314h1M81 314h0M102 314h0M104 314h0M106 314h8M116 314h0M118 314h4M124 314h1M131 314h1M134 314h0M144 314h0M146 314h0M406 314h0M408 314h0M412 314h0M420 314h0M426 314h0M431 314h0M436 314h0M473 314h0M45 315h1M57 315h0M60 315h0M64 315h0M70 315h0M72 315h0M74 315h0M78 315h0M84 315h0M90 315h0M97 315h1M101 315h2M105 315h2M109 315h6M117 315h0M119 315h5M130 315h1M140 315h0M147 315h2M285 315h0M407 315h0M415 315h0M421 315h0M424 315h0M57 316h0M64 316h0M68 316h0M73 316h0M80 316h0M84 316h0M87 316h0M90 316h0M92 316h0M95 316h0M100 316h1M104 316h3M109 316h2M113 316h0M115 316h1M118 316h0M120 316h5M127 316h0M130 316h1M133 316h1M145 316h0M147 316h0M264 316h0M410 316h0M423 316h1M434 316h0M472 316h0M51 317h2M59 317h0M62 317h2M72 317h0M79 317h0M81 317h2M91 317h0M94 317h0M97 317h0M103 317h0M106 317h5M113 317h0M115 317h0M117 317h1M120 317h2M124 317h1M130 317h0M132 317h0M138 317h0M142 317h0M146 317h1M407 317h0M413 317h1M417 317h0M424 317h0M428 317h0M437 317h0M443 317h0M43 318h0M51 318h1M57 318h0M60 318h0M62 318h0M66 318h0M68 318h1M75 318h0M83 318h0M87 318h0M90 318h0M92 318h0M97 318h0M99 318h0M101 318h1M105 318h0M107 318h1M110 318h2M115 318h1M118 318h3M123 318h6M133 318h0M137 318h0M141 318h0M146 318h0M148 318h0M262 318h0M410 318h0M416 318h0M425 318h1M428 318h0M47 319h1M54 319h0M56 319h0M58 319h0M67 319h0M69 319h0M90 319h0M94 319h1M100 319h0M102 319h0M107 319h2M111 319h1M114 319h0M116 319h5M123 319h3M128 319h0M130 319h0M132 319h0M136 319h1M139 319h2M146 319h0M421 319h0M436 319h0M444 319h0M44 320h0M50 320h1M53 320h0M57 320h2M66 320h1M74 320h0M78 320h0M100 320h0M102 320h0M105 320h1M109 320h2M113 320h9M125 320h0M127 320h1M130 320h1M134 320h0M136 320h0M146 320h0M148 320h0M248 320h0M261 320h0M263 320h0M411 320h1M420 320h0M423 320h3M431 320h0M434 320h0M462 320h0M43 321h0M49 321h0M59 321h0M61 321h0M68 321h0M70 321h0M79 321h2M85 321h0M93 321h0M101 321h0M106 321h0M108 321h1M111 321h0M113 321h0M115 321h0M118 321h4M124 321h6M136 321h0M140 321h0M146 321h0M249 321h0M263 321h0M266 321h1M409 321h0M415 321h0M421 321h0M433 321h0M43 322h0M48 322h1M55 322h0M58 322h0M60 322h0M64 322h0M89 322h0M101 322h0M104 322h0M107 322h1M110 322h1M113 322h1M116 322h1M119 322h3M127 322h0M133 322h0M142 322h0M148 322h0M255 322h0M257 322h0M267 322h0M292 322h0M409 322h0M412 322h0M415 322h3M422 322h0M425 322h0M428 322h0M430 322h0M47 323h0M62 323h0M71 323h0M82 323h0M88 323h0M92 323h0M99 323h0M105 323h1M111 323h4M118 323h0M121 323h0M123 323h0M127 323h0M129 323h0M132 323h0M138 323h0M250 323h0M252 323h0M256 323h0M265 323h0M406 323h0M414 323h0M421 323h0M425 323h0M53 324h0M56 324h0M60 324h0M64 324h0M66 324h0M72 324h0M97 324h0M102 324h0M106 324h0M113 324h0M115 324h3M122 324h0M124 324h1M129 324h0M135 324h0M137 324h0M252 324h0M258 324h1M408 324h0M417 324h0M420 324h1M425 324h0M428 324h0M442 324h0M468 324h0M47 325h3M55 325h1M58 325h0M61 325h0M64 325h0M67 325h0M70 325h0M74 325h0M82 325h0M85 325h0M89 325h0M98 325h0M104 325h2M110 325h0M112 325h0M119 325h3M126 325h0M128 325h0M133 325h0M256 325h3M263 325h0M280 325h0M413 325h0M423 325h1M428 325h0M435 325h0M50 326h2M55 326h0M60 326h0M72 326h0M83 326h0M95 326h1M100 326h0M104 326h0M107 326h2M113 326h0M118 326h6M139 326h0M239 326h0M249 326h1M252 326h0M255 326h0M258 326h2M415 326h0M422 326h0M424 326h0M47 327h0M50 327h1M53 327h0M55 327h0M59 327h0M65 327h0M67 327h1M72 327h0M74 327h0M86 327h0M100 327h0M103 327h1M108 327h2M112 327h3M119 327h0M121 327h1M138 327h0M254 327h0M257 327h0M266 327h0M273 327h0M408 327h0M412 327h0M426 327h0M437 327h0M50 328h0M52 328h0M54 328h1M71 328h0M78 328h0M80 328h0M88 328h1M98 328h2M107 328h0M111 328h0M117 328h0M121 328h0M124 328h0M136 328h0M250 328h0M254 328h0M256 328h2M260 328h1M266 328h0M268 328h0M270 328h0M408 328h0M412 328h0M418 328h0M420 328h0M426 328h0M49 329h0M56 329h2M62 329h0M64 329h0M91 329h0M95 329h4M102 329h0M104 329h0M107 329h0M112 329h0M115 329h3M120 329h2M126 329h0M132 329h0M240 329h0M246 329h0M253 329h8M271 329h0M412 329h0M414 329h0M428 329h0M432 329h0M439 329h0M455 329h0M46 330h2M51 330h0M53 330h3M59 330h1M63 330h2M68 330h0M81 330h0M84 330h0M88 330h0M94 330h1M98 330h0M102 330h0M104 330h0M108 330h1M111 330h0M114 330h1M117 330h1M121 330h0M123 330h0M125 330h2M133 330h0M254 330h0M257 330h5M265 330h0M287 330h0M409 330h1M421 330h1M434 330h0M49 331h0M53 331h1M56 331h1M68 331h0M70 331h1M76 331h0M80 331h0M87 331h0M92 331h0M98 331h0M101 331h0M105 331h0M111 331h0M115 331h0M117 331h0M120 331h0M124 331h0M240 331h0M254 331h2M258 331h0M260 331h1M405 331h0M408 331h0M414 331h0M420 331h0M423 331h0M432 331h0M437 331h1M49 332h2M55 332h1M58 332h1M61 332h0M63 332h1M72 332h0M75 332h0M87 332h0M89 332h1M92 332h0M96 332h3M101 332h0M105 332h0M108 332h0M112 332h0M115 332h1M118 332h0M122 332h0M124 332h1M127 332h0M252 332h0M254 332h0M256 332h3M261 332h1M267 332h0M423 332h0M48 333h0M50 333h6M67 333h0M73 333h1M87 333h13M103 333h1M112 333h1M117 333h1M128 333h0M240 333h0M243 333h0M245 333h0M252 333h2M256 333h1M259 333h0M264 333h1M268 333h0M405 333h0M408 333h1M416 333h0M430 333h0M49 334h1M52 334h0M57 334h0M60 334h1M67 334h1M72 334h0M75 334h0M88 334h2M92 334h10M105 334h0M109 334h0M117 334h0M120 334h0M127 334h0M229 334h0M244 334h0M248 334h7M257 334h0M259 334h0M261 334h1M266 334h0M406 334h0M416 334h0M418 334h0M426 334h0M433 334h0M441 334h0M446 334h0M49 335h0M51 335h0M54 335h1M58 335h0M61 335h2M69 335h0M72 335h1M78 335h0M86 335h0M88 335h15M105 335h0M110 335h0M237 335h0M242 335h5M249 335h3M255 335h4M261 335h3M266 335h0M410 335h0M421 335h0M426 335h0M429 335h0M435 335h0M441 335h0M47 336h0M49 336h0M53 336h3M61 336h0M64 336h0M66 336h0M72 336h1M75 336h0M77 336h0M84 336h0M87 336h2M91 336h10M103 336h1M111 336h0M113 336h0M116 336h0M120 336h1M233 336h1M239 336h1M242 336h1M246 336h18M268 336h0M412 336h0M418 336h0M47 337h0M50 337h0M52 337h1M55 337h0M57 337h0M59 337h1M71 337h1M77 337h0M86 337h12M100 337h0M103 337h1M110 337h1M118 337h0M121 337h0M232 337h0M239 337h19M260 337h2M264 337h0M410 337h0M412 337h0M416 337h0M429 337h0M51 338h2M55 338h1M58 338h0M64 338h0M71 338h1M81 338h0M84 338h17M103 338h0M111 338h0M116 338h0M120 338h0M232 338h1M235 338h0M237 338h0M239 338h14M255 338h5M262 338h1M408 338h0M416 338h2M422 338h0M426 338h0M428 338h0M433 338h0M46 339h0M48 339h0M50 339h3M55 339h0M66 339h0M71 339h0M74 339h0M80 339h0M83 339h15M100 339h0M102 339h0M234 339h1M238 339h23M408 339h0M422 339h0M431 339h0M436 339h0M47 340h2M51 340h1M56 340h2M60 340h0M62 340h0M64 340h0M72 340h0M82 340h19M103 340h0M105 340h0M109 340h0M114 340h0M231 340h0M233 340h19M254 340h7M275 340h0M407 340h0M410 340h0M419 340h0M424 340h0M426 340h0M468 340h0M45 341h0M47 341h0M49 341h1M56 341h2M60 341h0M70 341h0M78 341h0M81 341h16M101 341h0M234 341h26M410 341h0M414 341h1M420 341h0M426 341h0M429 341h0M444 341h0M46 342h4M52 342h1M57 342h0M59 342h0M67 342h3M77 342h0M80 342h0M82 342h21M233 342h0M237 342h2M241 342h20M265 342h0M419 342h2M424 342h0M427 342h0M433 342h0M440 342h0M48 343h0M51 343h0M53 343h0M61 343h0M66 343h0M71 343h0M74 343h0M79 343h0M81 343h1M84 343h9M95 343h3M232 343h1M235 343h3M240 343h13M255 343h6M405 343h0M408 343h1M413 343h0M416 343h0M425 343h0M440 343h0M446 343h0M47 344h0M49 344h0M51 344h0M53 344h2M58 344h0M67 344h0M70 344h0M74 344h0M77 344h0M79 344h1M82 344h13M97 344h2M106 344h0M111 344h0M230 344h0M234 344h26M414 344h0M421 344h0M425 344h0M428 344h1M44 345h0M48 345h0M50 345h1M53 345h3M58 345h0M68 345h1M71 345h1M80 345h4M86 345h10M98 345h0M100 345h0M108 345h1M228 345h0M232 345h0M234 345h0M236 345h0M239 345h16M257 345h3M406 345h0M409 345h3M434 345h0M47 346h0M50 346h5M60 346h0M62 346h0M64 346h0M66 346h0M68 346h0M70 346h0M78 346h1M81 346h8M91 346h5M98 346h1M101 346h0M231 346h0M233 346h1M237 346h20M259 346h2M409 346h0M413 346h1M420 346h0M426 346h1M441 346h0M443 346h0M48 347h5M55 347h2M59 347h0M61 347h0M75 347h0M77 347h1M82 347h8M92 347h2M97 347h0M101 347h0M229 347h1M232 347h2M236 347h1M239 347h0M241 347h5M248 347h9M260 347h0M407 347h1M411 347h0M416 347h0M420 347h1M430 347h1M46 348h0M48 348h3M53 348h3M58 348h0M60 348h0M65 348h0M67 348h0M76 348h1M79 348h13M94 348h0M98 348h0M226 348h0M232 348h2M236 348h1M239 348h4M245 348h8M255 348h6M405 348h1M416 348h0M423 348h0M437 348h0M47 349h7M60 349h0M62 349h0M64 349h0M78 349h1M82 349h4M88 349h2M92 349h2M229 349h1M233 349h0M235 349h1M238 349h20M260 349h0M416 349h0M418 349h1M428 349h0M445 349h0M46 350h0M48 350h0M50 350h2M54 350h0M57 350h1M60 350h0M63 350h0M66 350h1M80 350h1M84 350h5M92 350h1M229 350h1M236 350h0M239 350h12M253 350h5M260 350h0M408 350h0M413 350h0M415 350h0M429 350h0M432 350h0M442 350h0M46 351h5M54 351h5M61 351h3M71 351h0M78 351h4M84 351h2M88 351h0M227 351h0M229 351h1M236 351h2M240 351h20M262 351h0M264 351h0M406 351h1M415 351h0M421 351h0M423 351h0M434 351h0M47 352h0M49 352h12M64 352h0M66 352h1M73 352h1M77 352h2M86 352h0M88 352h0M229 352h1M232 352h0M237 352h23M409 352h0M411 352h0M425 352h0M46 353h3M51 353h7M60 353h0M63 353h1M67 353h0M72 353h0M82 353h1M226 353h0M229 353h0M231 353h1M238 353h22M263 353h0M413 353h0M424 353h0M444 353h0M46 354h0M48 354h4M54 354h2M58 354h2M63 354h0M67 354h0M77 354h0M79 354h0M86 354h0M89 354h1M98 354h0M229 354h4M239 354h3M244 354h15M261 354h0M419 354h0M422 354h0M424 354h0M427 354h0M439 354h0M445 354h0M453 354h0M47 355h11M61 355h0M63 355h0M65 355h0M67 355h0M71 355h1M77 355h0M79 355h1M83 355h1M87 355h0M226 355h0M228 355h0M230 355h0M232 355h1M237 355h1M240 355h18M260 355h0M439 355h0M441 355h0M450 355h0M43 356h1M46 356h2M50 356h3M55 356h2M59 356h1M62 356h0M65 356h0M69 356h0M73 356h0M80 356h0M83 356h0M85 356h0M87 356h0M228 356h0M230 356h0M232 356h0M235 356h1M238 356h14M254 356h7M413 356h0M422 356h0M427 356h0M438 356h0M47 357h13M62 357h0M68 357h0M228 357h0M230 357h0M233 357h1M236 357h24M412 357h0M415 357h0M419 357h0M422 357h0M424 357h0M426 357h0M434 357h0M47 358h5M54 358h1M58 358h2M63 358h2M72 358h0M230 358h1M233 358h0M236 358h24M406 358h0M408 358h0M413 358h0M421 358h0M434 358h0M45 359h0M48 359h1M51 359h3M56 359h1M59 359h0M62 359h0M73 359h0M228 359h0M230 359h2M234 359h0M239 359h0M241 359h20M410 359h0M418 359h0M425 359h1M48 360h1M51 360h6M64 360h1M68 360h0M70 360h0M73 360h0M226 360h2M234 360h1M237 360h2M241 360h0M243 360h5M251 360h0M256 360h2M261 360h0M408 360h0M412 360h0M419 360h0M421 360h0M430 360h0M435 360h0M438 360h2M47 361h3M52 361h5M66 361h1M74 361h0M228 361h1M236 361h6M244 361h8M422 361h0M430 361h0M435 361h0M46 362h3M52 362h1M56 362h0M59 362h2M226 362h0M228 362h0M231 362h0M234 362h0M241 362h0M244 362h0M246 362h1M249 362h2M253 362h1M256 362h0M414 362h0M441 362h0M47 363h2M51 363h4M57 363h0M59 363h1M64 363h0M226 363h0M230 363h0M232 363h1M235 363h0M238 363h1M241 363h3M246 363h1M254 363h1M257 363h0M418 363h0M424 363h0M428 363h0M43 364h0M47 364h0M49 364h1M53 364h2M58 364h0M72 364h0M227 364h0M229 364h0M232 364h0M234 364h3M239 364h0M241 364h1M249 364h1M257 364h0M407 364h0M413 364h0M419 364h0M443 364h0M48 365h1M52 365h3M59 365h0M69 365h0M230 365h2M237 365h0M239 365h4M245 365h4M252 365h2M258 365h0M407 365h0M413 365h0M415 365h0M418 365h0M425 365h0M427 365h0M47 366h2M51 366h3M56 366h0M60 366h0M71 366h0M229 366h0M231 366h0M235 366h1M238 366h0M240 366h0M243 366h6M256 366h1M407 366h0M416 366h0M423 366h0M428 366h1M439 366h0M226 367h1M235 367h0M237 367h0M239 367h0M241 367h1M244 367h5M253 367h0M256 367h0" fill="none" stroke="#000" stroke-width="1.2" stroke-linecap="square"/>
<rect x="41.4" y="30.6" width="110.1" height="112.80000000000001" fill="none" stroke="#0a0a0a" stroke-width="1.5"/><line x1="41.60" y1="143.40" x2="41.60" y2="148.40" stroke="#0a0a0a" stroke-width="1.3"/><line x1="45.87" y1="143.40" x2="45.87" y2="146.40" stroke="#0a0a0a" stroke-width="1.3"/><line x1="50.14" y1="143.40" x2="50.14" y2="146.40" stroke="#0a0a0a" stroke-width="1.3"/><line x1="54.40" y1="143.40" x2="54.40" y2="146.40" stroke="#0a0a0a" stroke-width="1.3"/><line x1="58.67" y1="143.40" x2="58.67" y2="146.40" stroke="#0a0a0a" stroke-width="1.3"/><line x1="62.94" y1="143.40" x2="62.94" y2="148.40" stroke="#0a0a0a" stroke-width="1.3"/><line x1="67.21" y1="143.40" x2="67.21" y2="146.40" stroke="#0a0a0a" stroke-width="1.3"/><line x1="71.48" y1="143.40" x2="71.48" y2="146.40" stroke="#0a0a0a" stroke-width="1.3"/><line x1="75.74" y1="143.40" x2="75.74" y2="146.40" stroke="#0a0a0a" stroke-width="1.3"/><line x1="80.01" y1="143.40" x2="80.01" y2="146.40" stroke="#0a0a0a" stroke-width="1.3"/><line x1="84.28" y1="143.40" x2="84.28" y2="148.40" stroke="#0a0a0a" stroke-width="1.3"/><line x1="88.55" y1="143.40" x2="88.55" y2="146.40" stroke="#0a0a0a" stroke-width="1.3"/><line x1="92.82" y1="143.40" x2="92.82" y2="146.40" stroke="#0a0a0a" stroke-width="1.3"/><line x1="97.08" y1="143.40" x2="97.08" y2="146.40" stroke="#0a0a0a" stroke-width="1.3"/><line x1="101.35" y1="143.40" x2="101.35" y2="146.40" stroke="#0a0a0a" stroke-width="1.3"/><line x1="105.62" y1="143.40" x2="105.62" y2="148.40" stroke="#0a0a0a" stroke-width="1.3"/><line x1="109.89" y1="143.40" x2="109.89" y2="146.40" stroke="#0a0a0a" stroke-width="1.3"/><line x1="114.16" y1="143.40" x2="114.16" y2="146.40" stroke="#0a0a0a" stroke-width="1.3"/><line x1="118.42" y1="143.40" x2="118.42" y2="146.40" stroke="#0a0a0a" stroke-width="1.3"/><line x1="122.69" y1="143.40" x2="122.69" y2="146.40" stroke="#0a0a0a" stroke-width="1.3"/><line x1="126.96" y1="143.40" x2="126.96" y2="148.40" stroke="#0a0a0a" stroke-width="1.3"/><line x1="131.23" y1="143.40" x2="131.23" y2="146.40" stroke="#0a0a0a" stroke-width="1.3"/><line x1="135.50" y1="143.40" x2="135.50" y2="146.40" stroke="#0a0a0a" stroke-width="1.3"/><line x1="139.76" y1="143.40" x2="139.76" y2="146.40" stroke="#0a0a0a" stroke-width="1.3"/><line x1="144.03" y1="143.40" x2="144.03" y2="146.40" stroke="#0a0a0a" stroke-width="1.3"/><line x1="148.30" y1="143.40" x2="148.30" y2="148.40" stroke="#0a0a0a" stroke-width="1.3"/><line x1="36.40" y1="142.20" x2="41.40" y2="142.20" stroke="#0a0a0a" stroke-width="1.3"/><line x1="38.40" y1="137.85" x2="41.40" y2="137.85" stroke="#0a0a0a" stroke-width="1.3"/><line x1="38.40" y1="133.50" x2="41.40" y2="133.50" stroke="#0a0a0a" stroke-width="1.3"/><line x1="38.40" y1="129.16" x2="41.40" y2="129.16" stroke="#0a0a0a" stroke-width="1.3"/><line x1="38.40" y1="124.81" x2="41.40" y2="124.81" stroke="#0a0a0a" stroke-width="1.3"/><line x1="36.40" y1="120.46" x2="41.40" y2="120.46" stroke="#0a0a0a" stroke-width="1.3"/><line x1="38.40" y1="116.11" x2="41.40" y2="116.11" stroke="#0a0a0a" stroke-width="1.3"/><line x1="38.40" y1="111.76" x2="41.40" y2="111.76" stroke="#0a0a0a" stroke-width="1.3"/><line x1="38.40" y1="107.42" x2="41.40" y2="107.42" stroke="#0a0a0a" stroke-width="1.3"/><line x1="38.40" y1="103.07" x2="41.40" y2="103.07" stroke="#0a0a0a" stroke-width="1.3"/><line x1="36.40" y1="98.72" x2="41.40" y2="98.72" stroke="#0a0a0a" stroke-width="1.3"/><line x1="38.40" y1="94.37" x2="41.40" y2="94.37" stroke="#0a0a0a" stroke-width="1.3"/><line x1="38.40" y1="90.02" x2="41.40" y2="90.02" stroke="#0a0a0a" stroke-width="1.3"/><line x1="38.40" y1="85.68" x2="41.40" y2="85.68" stroke="#0a0a0a" stroke-width="1.3"/><line x1="38.40" y1="81.33" x2="41.40" y2="81.33" stroke="#0a0a0a" stroke-width="1.3"/><line x1="36.40" y1="76.98" x2="41.40" y2="76.98" stroke="#0a0a0a" stroke-width="1.3"/><line x1="38.40" y1="72.63" x2="41.40" y2="72.63" stroke="#0a0a0a" stroke-width="1.3"/><line x1="38.40" y1="68.28" x2="41.40" y2="68.28" stroke="#0a0a0a" stroke-width="1.3"/><line x1="38.40" y1="63.94" x2="41.40" y2="63.94" stroke="#0a0a0a" stroke-width="1.3"/><line x1="38.40" y1="59.59" x2="41.40" y2="59.59" stroke="#0a0a0a" stroke-width="1.3"/><line x1="36.40" y1="55.24" x2="41.40" y2="55.24" stroke="#0a0a0a" stroke-width="1.3"/><line x1="38.40" y1="50.89" x2="41.40" y2="50.89" stroke="#0a0a0a" stroke-width="1.3"/><line x1="38.40" y1="46.54" x2="41.40" y2="46.54" stroke="#0a0a0a" stroke-width="1.3"/><line x1="38.40" y1="42.20" x2="41.40" y2="42.20" stroke="#0a0a0a" stroke-width="1.3"/><line x1="38.40" y1="37.85" x2="41.40" y2="37.85" stroke="#0a0a0a" stroke-width="1.3"/><line x1="36.40" y1="33.50" x2="41.40" y2="33.50" stroke="#0a0a0a" stroke-width="1.3"/><text class="tl" style="font-size:9.3px" x="41.60" y="156.20" text-anchor="middle" textLength="5.0" lengthAdjust="spacingAndGlyphs">0</text><text class="tl" style="font-size:9.3px" x="62.94" y="156.20" text-anchor="middle" textLength="10.0" lengthAdjust="spacingAndGlyphs">50</text><text class="tl" style="font-size:9.3px" x="84.28" y="156.20" text-anchor="middle" textLength="15.0" lengthAdjust="spacingAndGlyphs">100</text><text class="tl" style="font-size:9.3px" x="105.62" y="156.20" text-anchor="middle" textLength="15.0" lengthAdjust="spacingAndGlyphs">150</text><text class="tl" style="font-size:9.3px" x="126.96" y="156.20" text-anchor="middle" textLength="15.0" lengthAdjust="spacingAndGlyphs">200</text><text class="tl" style="font-size:9.3px" x="148.30" y="156.20" text-anchor="middle" textLength="15.0" lengthAdjust="spacingAndGlyphs">250</text><text class="tl" x="32.1" y="141.60" text-anchor="middle" transform="rotate(-90 32.1 141.60)" textLength="4.2" lengthAdjust="spacingAndGlyphs">0</text><text class="tl" x="32.1" y="119.86" text-anchor="middle" transform="rotate(-90 32.1 119.86)" textLength="8.4" lengthAdjust="spacingAndGlyphs">50</text><text class="tl" x="32.1" y="98.12" text-anchor="middle" transform="rotate(-90 32.1 98.12)" textLength="12.600000000000001" lengthAdjust="spacingAndGlyphs">100</text><text class="tl" x="32.1" y="76.38" text-anchor="middle" transform="rotate(-90 32.1 76.38)" textLength="12.600000000000001" lengthAdjust="spacingAndGlyphs">150</text><text class="tl" x="32.1" y="54.64" text-anchor="middle" transform="rotate(-90 32.1 54.64)" textLength="12.600000000000001" lengthAdjust="spacingAndGlyphs">200</text><text class="tl" x="32.1" y="32.90" text-anchor="middle" transform="rotate(-90 32.1 32.90)" textLength="12.600000000000001" lengthAdjust="spacingAndGlyphs">250</text><polyline points="92.3,37 146.2,37 146.2,95.6 87.6,137.1 75,131.2 73.8,113.5 92.3,89.5 92.3,37" fill="none" stroke="#111" stroke-width="1.25" stroke-linejoin="round"/><text x="130.6" y="129.6" font-size="10" font-weight="bold" text-anchor="middle" textLength="10.6" lengthAdjust="spacingAndGlyphs">R1</text><rect x="225.6" y="28.5" width="107.79999999999998" height="114.69999999999999" fill="none" stroke="#0a0a0a" stroke-width="1.5"/><line x1="225.60" y1="143.20" x2="225.60" y2="148.20" stroke="#0a0a0a" stroke-width="1.3"/><line x1="220.60" y1="143.20" x2="225.60" y2="143.20" stroke="#0a0a0a" stroke-width="1.3"/><line x1="233.71" y1="143.20" x2="233.71" y2="146.20" stroke="#0a0a0a" stroke-width="1.3"/><line x1="222.60" y1="134.57" x2="225.60" y2="134.57" stroke="#0a0a0a" stroke-width="1.3"/><line x1="238.46" y1="143.20" x2="238.46" y2="146.20" stroke="#0a0a0a" stroke-width="1.3"/><line x1="222.60" y1="129.52" x2="225.60" y2="129.52" stroke="#0a0a0a" stroke-width="1.3"/><line x1="241.83" y1="143.20" x2="241.83" y2="146.20" stroke="#0a0a0a" stroke-width="1.3"/><line x1="222.60" y1="125.94" x2="225.60" y2="125.94" stroke="#0a0a0a" stroke-width="1.3"/><line x1="244.44" y1="143.20" x2="244.44" y2="146.20" stroke="#0a0a0a" stroke-width="1.3"/><line x1="222.60" y1="123.16" x2="225.60" y2="123.16" stroke="#0a0a0a" stroke-width="1.3"/><line x1="246.57" y1="143.20" x2="246.57" y2="146.20" stroke="#0a0a0a" stroke-width="1.3"/><line x1="222.60" y1="120.89" x2="225.60" y2="120.89" stroke="#0a0a0a" stroke-width="1.3"/><line x1="248.38" y1="143.20" x2="248.38" y2="146.20" stroke="#0a0a0a" stroke-width="1.3"/><line x1="222.60" y1="118.97" x2="225.60" y2="118.97" stroke="#0a0a0a" stroke-width="1.3"/><line x1="249.94" y1="143.20" x2="249.94" y2="146.20" stroke="#0a0a0a" stroke-width="1.3"/><line x1="222.60" y1="117.30" x2="225.60" y2="117.30" stroke="#0a0a0a" stroke-width="1.3"/><line x1="251.32" y1="143.20" x2="251.32" y2="146.20" stroke="#0a0a0a" stroke-width="1.3"/><line x1="222.60" y1="115.84" x2="225.60" y2="115.84" stroke="#0a0a0a" stroke-width="1.3"/><line x1="252.55" y1="143.20" x2="252.55" y2="148.20" stroke="#0a0a0a" stroke-width="1.3"/><line x1="220.60" y1="114.52" x2="225.60" y2="114.52" stroke="#0a0a0a" stroke-width="1.3"/><line x1="260.66" y1="143.20" x2="260.66" y2="146.20" stroke="#0a0a0a" stroke-width="1.3"/><line x1="222.60" y1="105.89" x2="225.60" y2="105.89" stroke="#0a0a0a" stroke-width="1.3"/><line x1="265.41" y1="143.20" x2="265.41" y2="146.20" stroke="#0a0a0a" stroke-width="1.3"/><line x1="222.60" y1="100.84" x2="225.60" y2="100.84" stroke="#0a0a0a" stroke-width="1.3"/><line x1="268.78" y1="143.20" x2="268.78" y2="146.20" stroke="#0a0a0a" stroke-width="1.3"/><line x1="222.60" y1="97.26" x2="225.60" y2="97.26" stroke="#0a0a0a" stroke-width="1.3"/><line x1="271.39" y1="143.20" x2="271.39" y2="146.20" stroke="#0a0a0a" stroke-width="1.3"/><line x1="222.60" y1="94.48" x2="225.60" y2="94.48" stroke="#0a0a0a" stroke-width="1.3"/><line x1="273.52" y1="143.20" x2="273.52" y2="146.20" stroke="#0a0a0a" stroke-width="1.3"/><line x1="222.60" y1="92.21" x2="225.60" y2="92.21" stroke="#0a0a0a" stroke-width="1.3"/><line x1="275.33" y1="143.20" x2="275.33" y2="146.20" stroke="#0a0a0a" stroke-width="1.3"/><line x1="222.60" y1="90.29" x2="225.60" y2="90.29" stroke="#0a0a0a" stroke-width="1.3"/><line x1="276.89" y1="143.20" x2="276.89" y2="146.20" stroke="#0a0a0a" stroke-width="1.3"/><line x1="222.60" y1="88.63" x2="225.60" y2="88.63" stroke="#0a0a0a" stroke-width="1.3"/><line x1="278.27" y1="143.20" x2="278.27" y2="146.20" stroke="#0a0a0a" stroke-width="1.3"/><line x1="222.60" y1="87.16" x2="225.60" y2="87.16" stroke="#0a0a0a" stroke-width="1.3"/><line x1="279.50" y1="143.20" x2="279.50" y2="148.20" stroke="#0a0a0a" stroke-width="1.3"/><line x1="220.60" y1="85.85" x2="225.60" y2="85.85" stroke="#0a0a0a" stroke-width="1.3"/><line x1="287.61" y1="143.20" x2="287.61" y2="146.20" stroke="#0a0a0a" stroke-width="1.3"/><line x1="222.60" y1="77.22" x2="225.60" y2="77.22" stroke="#0a0a0a" stroke-width="1.3"/><line x1="292.36" y1="143.20" x2="292.36" y2="146.20" stroke="#0a0a0a" stroke-width="1.3"/><line x1="222.60" y1="72.17" x2="225.60" y2="72.17" stroke="#0a0a0a" stroke-width="1.3"/><line x1="295.73" y1="143.20" x2="295.73" y2="146.20" stroke="#0a0a0a" stroke-width="1.3"/><line x1="222.60" y1="68.59" x2="225.60" y2="68.59" stroke="#0a0a0a" stroke-width="1.3"/><line x1="298.34" y1="143.20" x2="298.34" y2="146.20" stroke="#0a0a0a" stroke-width="1.3"/><line x1="222.60" y1="65.81" x2="225.60" y2="65.81" stroke="#0a0a0a" stroke-width="1.3"/><line x1="300.47" y1="143.20" x2="300.47" y2="146.20" stroke="#0a0a0a" stroke-width="1.3"/><line x1="222.60" y1="63.54" x2="225.60" y2="63.54" stroke="#0a0a0a" stroke-width="1.3"/><line x1="302.28" y1="143.20" x2="302.28" y2="146.20" stroke="#0a0a0a" stroke-width="1.3"/><line x1="222.60" y1="61.62" x2="225.60" y2="61.62" stroke="#0a0a0a" stroke-width="1.3"/><line x1="303.84" y1="143.20" x2="303.84" y2="146.20" stroke="#0a0a0a" stroke-width="1.3"/><line x1="222.60" y1="59.95" x2="225.60" y2="59.95" stroke="#0a0a0a" stroke-width="1.3"/><line x1="305.22" y1="143.20" x2="305.22" y2="146.20" stroke="#0a0a0a" stroke-width="1.3"/><line x1="222.60" y1="58.49" x2="225.60" y2="58.49" stroke="#0a0a0a" stroke-width="1.3"/><line x1="306.45" y1="143.20" x2="306.45" y2="148.20" stroke="#0a0a0a" stroke-width="1.3"/><line x1="220.60" y1="57.17" x2="225.60" y2="57.17" stroke="#0a0a0a" stroke-width="1.3"/><line x1="314.56" y1="143.20" x2="314.56" y2="146.20" stroke="#0a0a0a" stroke-width="1.3"/><line x1="222.60" y1="48.54" x2="225.60" y2="48.54" stroke="#0a0a0a" stroke-width="1.3"/><line x1="319.31" y1="143.20" x2="319.31" y2="146.20" stroke="#0a0a0a" stroke-width="1.3"/><line x1="222.60" y1="43.49" x2="225.60" y2="43.49" stroke="#0a0a0a" stroke-width="1.3"/><line x1="322.68" y1="143.20" x2="322.68" y2="146.20" stroke="#0a0a0a" stroke-width="1.3"/><line x1="222.60" y1="39.91" x2="225.60" y2="39.91" stroke="#0a0a0a" stroke-width="1.3"/><line x1="325.29" y1="143.20" x2="325.29" y2="146.20" stroke="#0a0a0a" stroke-width="1.3"/><line x1="222.60" y1="37.13" x2="225.60" y2="37.13" stroke="#0a0a0a" stroke-width="1.3"/><line x1="327.42" y1="143.20" x2="327.42" y2="146.20" stroke="#0a0a0a" stroke-width="1.3"/><line x1="222.60" y1="34.86" x2="225.60" y2="34.86" stroke="#0a0a0a" stroke-width="1.3"/><line x1="329.23" y1="143.20" x2="329.23" y2="146.20" stroke="#0a0a0a" stroke-width="1.3"/><line x1="222.60" y1="32.94" x2="225.60" y2="32.94" stroke="#0a0a0a" stroke-width="1.3"/><line x1="330.79" y1="143.20" x2="330.79" y2="146.20" stroke="#0a0a0a" stroke-width="1.3"/><line x1="222.60" y1="31.28" x2="225.60" y2="31.28" stroke="#0a0a0a" stroke-width="1.3"/><line x1="332.17" y1="143.20" x2="332.17" y2="146.20" stroke="#0a0a0a" stroke-width="1.3"/><line x1="222.60" y1="29.81" x2="225.60" y2="29.81" stroke="#0a0a0a" stroke-width="1.3"/><line x1="333.40" y1="143.20" x2="333.40" y2="148.20" stroke="#0a0a0a" stroke-width="1.3"/><line x1="220.60" y1="28.50" x2="225.60" y2="28.50" stroke="#0a0a0a" stroke-width="1.3"/><line x1="268.20" y1="28.50" x2="268.20" y2="143.20" stroke="#0a0a0a" stroke-width="1.4"/><line x1="225.60" y1="102.40" x2="333.40" y2="102.40" stroke="#0a0a0a" stroke-width="1.4"/><text class="tl" x="224.80" y="158.39999999999998" text-anchor="middle">10<tspan class="sp" dy="-5.2">0</tspan></text><text class="tl" x="217.50" y="142.50" text-anchor="middle" transform="rotate(-90 217.50 142.50)">10<tspan class="sp" dy="-5.2">0</tspan></text><text class="tl" x="251.75" y="158.39999999999998" text-anchor="middle">10<tspan class="sp" dy="-5.2">1</tspan></text><text class="tl" x="217.50" y="113.82" text-anchor="middle" transform="rotate(-90 217.50 113.82)">10<tspan class="sp" dy="-5.2">1</tspan></text><text class="tl" x="278.70" y="158.39999999999998" text-anchor="middle">10<tspan class="sp" dy="-5.2">2</tspan></text><text class="tl" x="217.50" y="85.15" text-anchor="middle" transform="rotate(-90 217.50 85.15)">10<tspan class="sp" dy="-5.2">2</tspan></text><text class="tl" x="305.65" y="158.39999999999998" text-anchor="middle">10<tspan class="sp" dy="-5.2">3</tspan></text><text class="tl" x="217.50" y="56.47" text-anchor="middle" transform="rotate(-90 217.50 56.47)">10<tspan class="sp" dy="-5.2">3</tspan></text><text class="tl" x="332.60" y="158.39999999999998" text-anchor="middle">10<tspan class="sp" dy="-5.2">4</tspan></text><text class="tl" x="217.50" y="27.80" text-anchor="middle" transform="rotate(-90 217.50 27.80)">10<tspan class="sp" dy="-5.2">4</tspan></text><rect x="405.5" y="29.3" width="106.89999999999998" height="113.60000000000001" fill="none" stroke="#0a0a0a" stroke-width="1.5"/><line x1="405.50" y1="142.90" x2="405.50" y2="147.90" stroke="#0a0a0a" stroke-width="1.3"/><line x1="400.50" y1="142.90" x2="405.50" y2="142.90" stroke="#0a0a0a" stroke-width="1.3"/><line x1="413.55" y1="142.90" x2="413.55" y2="145.90" stroke="#0a0a0a" stroke-width="1.3"/><line x1="402.50" y1="134.35" x2="405.50" y2="134.35" stroke="#0a0a0a" stroke-width="1.3"/><line x1="418.25" y1="142.90" x2="418.25" y2="145.90" stroke="#0a0a0a" stroke-width="1.3"/><line x1="402.50" y1="129.35" x2="405.50" y2="129.35" stroke="#0a0a0a" stroke-width="1.3"/><line x1="421.59" y1="142.90" x2="421.59" y2="145.90" stroke="#0a0a0a" stroke-width="1.3"/><line x1="402.50" y1="125.80" x2="405.50" y2="125.80" stroke="#0a0a0a" stroke-width="1.3"/><line x1="424.18" y1="142.90" x2="424.18" y2="145.90" stroke="#0a0a0a" stroke-width="1.3"/><line x1="402.50" y1="123.05" x2="405.50" y2="123.05" stroke="#0a0a0a" stroke-width="1.3"/><line x1="426.30" y1="142.90" x2="426.30" y2="145.90" stroke="#0a0a0a" stroke-width="1.3"/><line x1="402.50" y1="120.80" x2="405.50" y2="120.80" stroke="#0a0a0a" stroke-width="1.3"/><line x1="428.09" y1="142.90" x2="428.09" y2="145.90" stroke="#0a0a0a" stroke-width="1.3"/><line x1="402.50" y1="118.90" x2="405.50" y2="118.90" stroke="#0a0a0a" stroke-width="1.3"/><line x1="429.64" y1="142.90" x2="429.64" y2="145.90" stroke="#0a0a0a" stroke-width="1.3"/><line x1="402.50" y1="117.25" x2="405.50" y2="117.25" stroke="#0a0a0a" stroke-width="1.3"/><line x1="431.00" y1="142.90" x2="431.00" y2="145.90" stroke="#0a0a0a" stroke-width="1.3"/><line x1="402.50" y1="115.80" x2="405.50" y2="115.80" stroke="#0a0a0a" stroke-width="1.3"/><line x1="432.23" y1="142.90" x2="432.23" y2="147.90" stroke="#0a0a0a" stroke-width="1.3"/><line x1="400.50" y1="114.50" x2="405.50" y2="114.50" stroke="#0a0a0a" stroke-width="1.3"/><line x1="440.27" y1="142.90" x2="440.27" y2="145.90" stroke="#0a0a0a" stroke-width="1.3"/><line x1="402.50" y1="105.95" x2="405.50" y2="105.95" stroke="#0a0a0a" stroke-width="1.3"/><line x1="444.98" y1="142.90" x2="444.98" y2="145.90" stroke="#0a0a0a" stroke-width="1.3"/><line x1="402.50" y1="100.95" x2="405.50" y2="100.95" stroke="#0a0a0a" stroke-width="1.3"/><line x1="448.32" y1="142.90" x2="448.32" y2="145.90" stroke="#0a0a0a" stroke-width="1.3"/><line x1="402.50" y1="97.40" x2="405.50" y2="97.40" stroke="#0a0a0a" stroke-width="1.3"/><line x1="450.90" y1="142.90" x2="450.90" y2="145.90" stroke="#0a0a0a" stroke-width="1.3"/><line x1="402.50" y1="94.65" x2="405.50" y2="94.65" stroke="#0a0a0a" stroke-width="1.3"/><line x1="453.02" y1="142.90" x2="453.02" y2="145.90" stroke="#0a0a0a" stroke-width="1.3"/><line x1="402.50" y1="92.40" x2="405.50" y2="92.40" stroke="#0a0a0a" stroke-width="1.3"/><line x1="454.81" y1="142.90" x2="454.81" y2="145.90" stroke="#0a0a0a" stroke-width="1.3"/><line x1="402.50" y1="90.50" x2="405.50" y2="90.50" stroke="#0a0a0a" stroke-width="1.3"/><line x1="456.36" y1="142.90" x2="456.36" y2="145.90" stroke="#0a0a0a" stroke-width="1.3"/><line x1="402.50" y1="88.85" x2="405.50" y2="88.85" stroke="#0a0a0a" stroke-width="1.3"/><line x1="457.73" y1="142.90" x2="457.73" y2="145.90" stroke="#0a0a0a" stroke-width="1.3"/><line x1="402.50" y1="87.40" x2="405.50" y2="87.40" stroke="#0a0a0a" stroke-width="1.3"/><line x1="458.95" y1="142.90" x2="458.95" y2="147.90" stroke="#0a0a0a" stroke-width="1.3"/><line x1="400.50" y1="86.10" x2="405.50" y2="86.10" stroke="#0a0a0a" stroke-width="1.3"/><line x1="467.00" y1="142.90" x2="467.00" y2="145.90" stroke="#0a0a0a" stroke-width="1.3"/><line x1="402.50" y1="77.55" x2="405.50" y2="77.55" stroke="#0a0a0a" stroke-width="1.3"/><line x1="471.70" y1="142.90" x2="471.70" y2="145.90" stroke="#0a0a0a" stroke-width="1.3"/><line x1="402.50" y1="72.55" x2="405.50" y2="72.55" stroke="#0a0a0a" stroke-width="1.3"/><line x1="475.04" y1="142.90" x2="475.04" y2="145.90" stroke="#0a0a0a" stroke-width="1.3"/><line x1="402.50" y1="69.00" x2="405.50" y2="69.00" stroke="#0a0a0a" stroke-width="1.3"/><line x1="477.63" y1="142.90" x2="477.63" y2="145.90" stroke="#0a0a0a" stroke-width="1.3"/><line x1="402.50" y1="66.25" x2="405.50" y2="66.25" stroke="#0a0a0a" stroke-width="1.3"/><line x1="479.75" y1="142.90" x2="479.75" y2="145.90" stroke="#0a0a0a" stroke-width="1.3"/><line x1="402.50" y1="64.00" x2="405.50" y2="64.00" stroke="#0a0a0a" stroke-width="1.3"/><line x1="481.54" y1="142.90" x2="481.54" y2="145.90" stroke="#0a0a0a" stroke-width="1.3"/><line x1="402.50" y1="62.10" x2="405.50" y2="62.10" stroke="#0a0a0a" stroke-width="1.3"/><line x1="483.09" y1="142.90" x2="483.09" y2="145.90" stroke="#0a0a0a" stroke-width="1.3"/><line x1="402.50" y1="60.45" x2="405.50" y2="60.45" stroke="#0a0a0a" stroke-width="1.3"/><line x1="484.45" y1="142.90" x2="484.45" y2="145.90" stroke="#0a0a0a" stroke-width="1.3"/><line x1="402.50" y1="59.00" x2="405.50" y2="59.00" stroke="#0a0a0a" stroke-width="1.3"/><line x1="485.67" y1="142.90" x2="485.67" y2="147.90" stroke="#0a0a0a" stroke-width="1.3"/><line x1="400.50" y1="57.70" x2="405.50" y2="57.70" stroke="#0a0a0a" stroke-width="1.3"/><line x1="493.72" y1="142.90" x2="493.72" y2="145.90" stroke="#0a0a0a" stroke-width="1.3"/><line x1="402.50" y1="49.15" x2="405.50" y2="49.15" stroke="#0a0a0a" stroke-width="1.3"/><line x1="498.43" y1="142.90" x2="498.43" y2="145.90" stroke="#0a0a0a" stroke-width="1.3"/><line x1="402.50" y1="44.15" x2="405.50" y2="44.15" stroke="#0a0a0a" stroke-width="1.3"/><line x1="501.77" y1="142.90" x2="501.77" y2="145.90" stroke="#0a0a0a" stroke-width="1.3"/><line x1="402.50" y1="40.60" x2="405.50" y2="40.60" stroke="#0a0a0a" stroke-width="1.3"/><line x1="504.35" y1="142.90" x2="504.35" y2="145.90" stroke="#0a0a0a" stroke-width="1.3"/><line x1="402.50" y1="37.85" x2="405.50" y2="37.85" stroke="#0a0a0a" stroke-width="1.3"/><line x1="506.47" y1="142.90" x2="506.47" y2="145.90" stroke="#0a0a0a" stroke-width="1.3"/><line x1="402.50" y1="35.60" x2="405.50" y2="35.60" stroke="#0a0a0a" stroke-width="1.3"/><line x1="508.26" y1="142.90" x2="508.26" y2="145.90" stroke="#0a0a0a" stroke-width="1.3"/><line x1="402.50" y1="33.70" x2="405.50" y2="33.70" stroke="#0a0a0a" stroke-width="1.3"/><line x1="509.81" y1="142.90" x2="509.81" y2="145.90" stroke="#0a0a0a" stroke-width="1.3"/><line x1="402.50" y1="32.05" x2="405.50" y2="32.05" stroke="#0a0a0a" stroke-width="1.3"/><line x1="511.18" y1="142.90" x2="511.18" y2="145.90" stroke="#0a0a0a" stroke-width="1.3"/><line x1="402.50" y1="30.60" x2="405.50" y2="30.60" stroke="#0a0a0a" stroke-width="1.3"/><line x1="512.40" y1="142.90" x2="512.40" y2="147.90" stroke="#0a0a0a" stroke-width="1.3"/><line x1="400.50" y1="29.30" x2="405.50" y2="29.30" stroke="#0a0a0a" stroke-width="1.3"/><line x1="447.50" y1="29.30" x2="447.50" y2="142.90" stroke="#0a0a0a" stroke-width="1.4"/><line x1="405.50" y1="102.80" x2="512.40" y2="102.80" stroke="#0a0a0a" stroke-width="1.4"/><text class="tl" x="404.70" y="158.1" text-anchor="middle">10<tspan class="sp" dy="-5.2">0</tspan></text><text class="tl" x="397.40" y="142.20" text-anchor="middle" transform="rotate(-90 397.40 142.20)">10<tspan class="sp" dy="-5.2">0</tspan></text><text class="tl" x="431.43" y="158.1" text-anchor="middle">10<tspan class="sp" dy="-5.2">1</tspan></text><text class="tl" x="397.40" y="113.80" text-anchor="middle" transform="rotate(-90 397.40 113.80)">10<tspan class="sp" dy="-5.2">1</tspan></text><text class="tl" x="458.15" y="158.1" text-anchor="middle">10<tspan class="sp" dy="-5.2">2</tspan></text><text class="tl" x="397.40" y="85.40" text-anchor="middle" transform="rotate(-90 397.40 85.40)">10<tspan class="sp" dy="-5.2">2</tspan></text><text class="tl" x="484.87" y="158.1" text-anchor="middle">10<tspan class="sp" dy="-5.2">3</tspan></text><text class="tl" x="397.40" y="57.00" text-anchor="middle" transform="rotate(-90 397.40 57.00)">10<tspan class="sp" dy="-5.2">3</tspan></text><text class="tl" x="511.60" y="158.1" text-anchor="middle">10<tspan class="sp" dy="-5.2">4</tspan></text><text class="tl" x="397.40" y="28.60" text-anchor="middle" transform="rotate(-90 397.40 28.60)">10<tspan class="sp" dy="-5.2">4</tspan></text><text x="496.4" y="45.3" font-size="11.5" font-weight="bold" text-anchor="middle">58%</text><text x="497" y="135.8" font-size="11.5" font-weight="bold" text-anchor="middle">1.3%</text><rect x="42.5" y="255.1" width="107.9" height="112.70000000000002" fill="none" stroke="#0a0a0a" stroke-width="1.5"/><line x1="42.90" y1="367.80" x2="42.90" y2="372.80" stroke="#0a0a0a" stroke-width="1.3"/><line x1="47.08" y1="367.80" x2="47.08" y2="370.80" stroke="#0a0a0a" stroke-width="1.3"/><line x1="51.26" y1="367.80" x2="51.26" y2="370.80" stroke="#0a0a0a" stroke-width="1.3"/><line x1="55.44" y1="367.80" x2="55.44" y2="370.80" stroke="#0a0a0a" stroke-width="1.3"/><line x1="59.62" y1="367.80" x2="59.62" y2="370.80" stroke="#0a0a0a" stroke-width="1.3"/><line x1="63.80" y1="367.80" x2="63.80" y2="372.80" stroke="#0a0a0a" stroke-width="1.3"/><line x1="67.98" y1="367.80" x2="67.98" y2="370.80" stroke="#0a0a0a" stroke-width="1.3"/><line x1="72.16" y1="367.80" x2="72.16" y2="370.80" stroke="#0a0a0a" stroke-width="1.3"/><line x1="76.34" y1="367.80" x2="76.34" y2="370.80" stroke="#0a0a0a" stroke-width="1.3"/><line x1="80.52" y1="367.80" x2="80.52" y2="370.80" stroke="#0a0a0a" stroke-width="1.3"/><line x1="84.70" y1="367.80" x2="84.70" y2="372.80" stroke="#0a0a0a" stroke-width="1.3"/><line x1="88.88" y1="367.80" x2="88.88" y2="370.80" stroke="#0a0a0a" stroke-width="1.3"/><line x1="93.06" y1="367.80" x2="93.06" y2="370.80" stroke="#0a0a0a" stroke-width="1.3"/><line x1="97.24" y1="367.80" x2="97.24" y2="370.80" stroke="#0a0a0a" stroke-width="1.3"/><line x1="101.42" y1="367.80" x2="101.42" y2="370.80" stroke="#0a0a0a" stroke-width="1.3"/><line x1="105.60" y1="367.80" x2="105.60" y2="372.80" stroke="#0a0a0a" stroke-width="1.3"/><line x1="109.78" y1="367.80" x2="109.78" y2="370.80" stroke="#0a0a0a" stroke-width="1.3"/><line x1="113.96" y1="367.80" x2="113.96" y2="370.80" stroke="#0a0a0a" stroke-width="1.3"/><line x1="118.14" y1="367.80" x2="118.14" y2="370.80" stroke="#0a0a0a" stroke-width="1.3"/><line x1="122.32" y1="367.80" x2="122.32" y2="370.80" stroke="#0a0a0a" stroke-width="1.3"/><line x1="126.50" y1="367.80" x2="126.50" y2="372.80" stroke="#0a0a0a" stroke-width="1.3"/><line x1="130.68" y1="367.80" x2="130.68" y2="370.80" stroke="#0a0a0a" stroke-width="1.3"/><line x1="134.86" y1="367.80" x2="134.86" y2="370.80" stroke="#0a0a0a" stroke-width="1.3"/><line x1="139.04" y1="367.80" x2="139.04" y2="370.80" stroke="#0a0a0a" stroke-width="1.3"/><line x1="143.22" y1="367.80" x2="143.22" y2="370.80" stroke="#0a0a0a" stroke-width="1.3"/><line x1="147.40" y1="367.80" x2="147.40" y2="372.80" stroke="#0a0a0a" stroke-width="1.3"/><line x1="37.50" y1="367.20" x2="42.50" y2="367.20" stroke="#0a0a0a" stroke-width="1.3"/><line x1="39.50" y1="362.83" x2="42.50" y2="362.83" stroke="#0a0a0a" stroke-width="1.3"/><line x1="39.50" y1="358.46" x2="42.50" y2="358.46" stroke="#0a0a0a" stroke-width="1.3"/><line x1="39.50" y1="354.08" x2="42.50" y2="354.08" stroke="#0a0a0a" stroke-width="1.3"/><line x1="39.50" y1="349.71" x2="42.50" y2="349.71" stroke="#0a0a0a" stroke-width="1.3"/><line x1="37.50" y1="345.34" x2="42.50" y2="345.34" stroke="#0a0a0a" stroke-width="1.3"/><line x1="39.50" y1="340.97" x2="42.50" y2="340.97" stroke="#0a0a0a" stroke-width="1.3"/><line x1="39.50" y1="336.60" x2="42.50" y2="336.60" stroke="#0a0a0a" stroke-width="1.3"/><line x1="39.50" y1="332.22" x2="42.50" y2="332.22" stroke="#0a0a0a" stroke-width="1.3"/><line x1="39.50" y1="327.85" x2="42.50" y2="327.85" stroke="#0a0a0a" stroke-width="1.3"/><line x1="37.50" y1="323.48" x2="42.50" y2="323.48" stroke="#0a0a0a" stroke-width="1.3"/><line x1="39.50" y1="319.11" x2="42.50" y2="319.11" stroke="#0a0a0a" stroke-width="1.3"/><line x1="39.50" y1="314.74" x2="42.50" y2="314.74" stroke="#0a0a0a" stroke-width="1.3"/><line x1="39.50" y1="310.36" x2="42.50" y2="310.36" stroke="#0a0a0a" stroke-width="1.3"/><line x1="39.50" y1="305.99" x2="42.50" y2="305.99" stroke="#0a0a0a" stroke-width="1.3"/><line x1="37.50" y1="301.62" x2="42.50" y2="301.62" stroke="#0a0a0a" stroke-width="1.3"/><line x1="39.50" y1="297.25" x2="42.50" y2="297.25" stroke="#0a0a0a" stroke-width="1.3"/><line x1="39.50" y1="292.88" x2="42.50" y2="292.88" stroke="#0a0a0a" stroke-width="1.3"/><line x1="39.50" y1="288.50" x2="42.50" y2="288.50" stroke="#0a0a0a" stroke-width="1.3"/><line x1="39.50" y1="284.13" x2="42.50" y2="284.13" stroke="#0a0a0a" stroke-width="1.3"/><line x1="37.50" y1="279.76" x2="42.50" y2="279.76" stroke="#0a0a0a" stroke-width="1.3"/><line x1="39.50" y1="275.39" x2="42.50" y2="275.39" stroke="#0a0a0a" stroke-width="1.3"/><line x1="39.50" y1="271.02" x2="42.50" y2="271.02" stroke="#0a0a0a" stroke-width="1.3"/><line x1="39.50" y1="266.64" x2="42.50" y2="266.64" stroke="#0a0a0a" stroke-width="1.3"/><line x1="39.50" y1="262.27" x2="42.50" y2="262.27" stroke="#0a0a0a" stroke-width="1.3"/><line x1="37.50" y1="257.90" x2="42.50" y2="257.90" stroke="#0a0a0a" stroke-width="1.3"/><text class="tl" style="font-size:9.3px" x="42.90" y="381.00" text-anchor="middle" textLength="5.0" lengthAdjust="spacingAndGlyphs">0</text><text class="tl" style="font-size:9.3px" x="63.80" y="381.00" text-anchor="middle" textLength="10.0" lengthAdjust="spacingAndGlyphs">50</text><text class="tl" style="font-size:9.3px" x="84.70" y="381.00" text-anchor="middle" textLength="15.0" lengthAdjust="spacingAndGlyphs">100</text><text class="tl" style="font-size:9.3px" x="105.60" y="381.00" text-anchor="middle" textLength="15.0" lengthAdjust="spacingAndGlyphs">150</text><text class="tl" style="font-size:9.3px" x="126.50" y="381.00" text-anchor="middle" textLength="15.0" lengthAdjust="spacingAndGlyphs">200</text><text class="tl" style="font-size:9.3px" x="147.40" y="381.00" text-anchor="middle" textLength="15.0" lengthAdjust="spacingAndGlyphs">250</text><text class="tl" x="33.2" y="366.60" text-anchor="middle" transform="rotate(-90 33.2 366.60)" textLength="4.2" lengthAdjust="spacingAndGlyphs">0</text><text class="tl" x="33.2" y="344.74" text-anchor="middle" transform="rotate(-90 33.2 344.74)" textLength="8.4" lengthAdjust="spacingAndGlyphs">50</text><text class="tl" x="33.2" y="322.88" text-anchor="middle" transform="rotate(-90 33.2 322.88)" textLength="12.600000000000001" lengthAdjust="spacingAndGlyphs">100</text><text class="tl" x="33.2" y="301.02" text-anchor="middle" transform="rotate(-90 33.2 301.02)" textLength="12.600000000000001" lengthAdjust="spacingAndGlyphs">150</text><text class="tl" x="33.2" y="279.16" text-anchor="middle" transform="rotate(-90 33.2 279.16)" textLength="12.600000000000001" lengthAdjust="spacingAndGlyphs">200</text><text class="tl" x="33.2" y="257.30" text-anchor="middle" transform="rotate(-90 33.2 257.30)" textLength="12.600000000000001" lengthAdjust="spacingAndGlyphs">250</text><polyline points="92.3,262 145,262 145,321 87.5,361.5 75,354.6 73.8,340 92.3,313.7 92.3,262" fill="none" stroke="#111" stroke-width="1.25" stroke-linejoin="round"/><text x="130.9" y="355.6" font-size="10" font-weight="bold" text-anchor="middle" textLength="10.4" lengthAdjust="spacingAndGlyphs">R1</text><rect x="225.4" y="254.9" width="107.6" height="113.4" fill="none" stroke="#0a0a0a" stroke-width="1.5"/><line x1="225.40" y1="368.30" x2="225.40" y2="373.30" stroke="#0a0a0a" stroke-width="1.3"/><line x1="220.40" y1="368.30" x2="225.40" y2="368.30" stroke="#0a0a0a" stroke-width="1.3"/><line x1="233.50" y1="368.30" x2="233.50" y2="371.30" stroke="#0a0a0a" stroke-width="1.3"/><line x1="222.40" y1="359.77" x2="225.40" y2="359.77" stroke="#0a0a0a" stroke-width="1.3"/><line x1="238.23" y1="368.30" x2="238.23" y2="371.30" stroke="#0a0a0a" stroke-width="1.3"/><line x1="222.40" y1="354.77" x2="225.40" y2="354.77" stroke="#0a0a0a" stroke-width="1.3"/><line x1="241.60" y1="368.30" x2="241.60" y2="371.30" stroke="#0a0a0a" stroke-width="1.3"/><line x1="222.40" y1="351.23" x2="225.40" y2="351.23" stroke="#0a0a0a" stroke-width="1.3"/><line x1="244.20" y1="368.30" x2="244.20" y2="371.30" stroke="#0a0a0a" stroke-width="1.3"/><line x1="222.40" y1="348.48" x2="225.40" y2="348.48" stroke="#0a0a0a" stroke-width="1.3"/><line x1="246.33" y1="368.30" x2="246.33" y2="371.30" stroke="#0a0a0a" stroke-width="1.3"/><line x1="222.40" y1="346.24" x2="225.40" y2="346.24" stroke="#0a0a0a" stroke-width="1.3"/><line x1="248.13" y1="368.30" x2="248.13" y2="371.30" stroke="#0a0a0a" stroke-width="1.3"/><line x1="222.40" y1="344.34" x2="225.40" y2="344.34" stroke="#0a0a0a" stroke-width="1.3"/><line x1="249.69" y1="368.30" x2="249.69" y2="371.30" stroke="#0a0a0a" stroke-width="1.3"/><line x1="222.40" y1="342.70" x2="225.40" y2="342.70" stroke="#0a0a0a" stroke-width="1.3"/><line x1="251.07" y1="368.30" x2="251.07" y2="371.30" stroke="#0a0a0a" stroke-width="1.3"/><line x1="222.40" y1="341.25" x2="225.40" y2="341.25" stroke="#0a0a0a" stroke-width="1.3"/><line x1="252.30" y1="368.30" x2="252.30" y2="373.30" stroke="#0a0a0a" stroke-width="1.3"/><line x1="220.40" y1="339.95" x2="225.40" y2="339.95" stroke="#0a0a0a" stroke-width="1.3"/><line x1="260.40" y1="368.30" x2="260.40" y2="371.30" stroke="#0a0a0a" stroke-width="1.3"/><line x1="222.40" y1="331.42" x2="225.40" y2="331.42" stroke="#0a0a0a" stroke-width="1.3"/><line x1="265.13" y1="368.30" x2="265.13" y2="371.30" stroke="#0a0a0a" stroke-width="1.3"/><line x1="222.40" y1="326.42" x2="225.40" y2="326.42" stroke="#0a0a0a" stroke-width="1.3"/><line x1="268.50" y1="368.30" x2="268.50" y2="371.30" stroke="#0a0a0a" stroke-width="1.3"/><line x1="222.40" y1="322.88" x2="225.40" y2="322.88" stroke="#0a0a0a" stroke-width="1.3"/><line x1="271.10" y1="368.30" x2="271.10" y2="371.30" stroke="#0a0a0a" stroke-width="1.3"/><line x1="222.40" y1="320.13" x2="225.40" y2="320.13" stroke="#0a0a0a" stroke-width="1.3"/><line x1="273.23" y1="368.30" x2="273.23" y2="371.30" stroke="#0a0a0a" stroke-width="1.3"/><line x1="222.40" y1="317.89" x2="225.40" y2="317.89" stroke="#0a0a0a" stroke-width="1.3"/><line x1="275.03" y1="368.30" x2="275.03" y2="371.30" stroke="#0a0a0a" stroke-width="1.3"/><line x1="222.40" y1="315.99" x2="225.40" y2="315.99" stroke="#0a0a0a" stroke-width="1.3"/><line x1="276.59" y1="368.30" x2="276.59" y2="371.30" stroke="#0a0a0a" stroke-width="1.3"/><line x1="222.40" y1="314.35" x2="225.40" y2="314.35" stroke="#0a0a0a" stroke-width="1.3"/><line x1="277.97" y1="368.30" x2="277.97" y2="371.30" stroke="#0a0a0a" stroke-width="1.3"/><line x1="222.40" y1="312.90" x2="225.40" y2="312.90" stroke="#0a0a0a" stroke-width="1.3"/><line x1="279.20" y1="368.30" x2="279.20" y2="373.30" stroke="#0a0a0a" stroke-width="1.3"/><line x1="220.40" y1="311.60" x2="225.40" y2="311.60" stroke="#0a0a0a" stroke-width="1.3"/><line x1="287.30" y1="368.30" x2="287.30" y2="371.30" stroke="#0a0a0a" stroke-width="1.3"/><line x1="222.40" y1="303.07" x2="225.40" y2="303.07" stroke="#0a0a0a" stroke-width="1.3"/><line x1="292.03" y1="368.30" x2="292.03" y2="371.30" stroke="#0a0a0a" stroke-width="1.3"/><line x1="222.40" y1="298.07" x2="225.40" y2="298.07" stroke="#0a0a0a" stroke-width="1.3"/><line x1="295.40" y1="368.30" x2="295.40" y2="371.30" stroke="#0a0a0a" stroke-width="1.3"/><line x1="222.40" y1="294.53" x2="225.40" y2="294.53" stroke="#0a0a0a" stroke-width="1.3"/><line x1="298.00" y1="368.30" x2="298.00" y2="371.30" stroke="#0a0a0a" stroke-width="1.3"/><line x1="222.40" y1="291.78" x2="225.40" y2="291.78" stroke="#0a0a0a" stroke-width="1.3"/><line x1="300.13" y1="368.30" x2="300.13" y2="371.30" stroke="#0a0a0a" stroke-width="1.3"/><line x1="222.40" y1="289.54" x2="225.40" y2="289.54" stroke="#0a0a0a" stroke-width="1.3"/><line x1="301.93" y1="368.30" x2="301.93" y2="371.30" stroke="#0a0a0a" stroke-width="1.3"/><line x1="222.40" y1="287.64" x2="225.40" y2="287.64" stroke="#0a0a0a" stroke-width="1.3"/><line x1="303.49" y1="368.30" x2="303.49" y2="371.30" stroke="#0a0a0a" stroke-width="1.3"/><line x1="222.40" y1="286.00" x2="225.40" y2="286.00" stroke="#0a0a0a" stroke-width="1.3"/><line x1="304.87" y1="368.30" x2="304.87" y2="371.30" stroke="#0a0a0a" stroke-width="1.3"/><line x1="222.40" y1="284.55" x2="225.40" y2="284.55" stroke="#0a0a0a" stroke-width="1.3"/><line x1="306.10" y1="368.30" x2="306.10" y2="373.30" stroke="#0a0a0a" stroke-width="1.3"/><line x1="220.40" y1="283.25" x2="225.40" y2="283.25" stroke="#0a0a0a" stroke-width="1.3"/><line x1="314.20" y1="368.30" x2="314.20" y2="371.30" stroke="#0a0a0a" stroke-width="1.3"/><line x1="222.40" y1="274.72" x2="225.40" y2="274.72" stroke="#0a0a0a" stroke-width="1.3"/><line x1="318.93" y1="368.30" x2="318.93" y2="371.30" stroke="#0a0a0a" stroke-width="1.3"/><line x1="222.40" y1="269.72" x2="225.40" y2="269.72" stroke="#0a0a0a" stroke-width="1.3"/><line x1="322.30" y1="368.30" x2="322.30" y2="371.30" stroke="#0a0a0a" stroke-width="1.3"/><line x1="222.40" y1="266.18" x2="225.40" y2="266.18" stroke="#0a0a0a" stroke-width="1.3"/><line x1="324.90" y1="368.30" x2="324.90" y2="371.30" stroke="#0a0a0a" stroke-width="1.3"/><line x1="222.40" y1="263.43" x2="225.40" y2="263.43" stroke="#0a0a0a" stroke-width="1.3"/><line x1="327.03" y1="368.30" x2="327.03" y2="371.30" stroke="#0a0a0a" stroke-width="1.3"/><line x1="222.40" y1="261.19" x2="225.40" y2="261.19" stroke="#0a0a0a" stroke-width="1.3"/><line x1="328.83" y1="368.30" x2="328.83" y2="371.30" stroke="#0a0a0a" stroke-width="1.3"/><line x1="222.40" y1="259.29" x2="225.40" y2="259.29" stroke="#0a0a0a" stroke-width="1.3"/><line x1="330.39" y1="368.30" x2="330.39" y2="371.30" stroke="#0a0a0a" stroke-width="1.3"/><line x1="222.40" y1="257.65" x2="225.40" y2="257.65" stroke="#0a0a0a" stroke-width="1.3"/><line x1="331.77" y1="368.30" x2="331.77" y2="371.30" stroke="#0a0a0a" stroke-width="1.3"/><line x1="222.40" y1="256.20" x2="225.40" y2="256.20" stroke="#0a0a0a" stroke-width="1.3"/><line x1="333.00" y1="368.30" x2="333.00" y2="373.30" stroke="#0a0a0a" stroke-width="1.3"/><line x1="220.40" y1="254.90" x2="225.40" y2="254.90" stroke="#0a0a0a" stroke-width="1.3"/><line x1="267.90" y1="254.90" x2="267.90" y2="368.30" stroke="#0a0a0a" stroke-width="1.4"/><line x1="225.40" y1="311.40" x2="333.00" y2="311.40" stroke="#0a0a0a" stroke-width="1.4"/><text class="tl" x="224.60" y="383.5" text-anchor="middle">10<tspan class="sp" dy="-5.2">0</tspan></text><text class="tl" x="217.30" y="367.60" text-anchor="middle" transform="rotate(-90 217.30 367.60)">10<tspan class="sp" dy="-5.2">0</tspan></text><text class="tl" x="251.50" y="383.5" text-anchor="middle">10<tspan class="sp" dy="-5.2">1</tspan></text><text class="tl" x="217.30" y="339.25" text-anchor="middle" transform="rotate(-90 217.30 339.25)">10<tspan class="sp" dy="-5.2">1</tspan></text><text class="tl" x="278.40" y="383.5" text-anchor="middle">10<tspan class="sp" dy="-5.2">2</tspan></text><text class="tl" x="217.30" y="310.90" text-anchor="middle" transform="rotate(-90 217.30 310.90)">10<tspan class="sp" dy="-5.2">2</tspan></text><text class="tl" x="305.30" y="383.5" text-anchor="middle">10<tspan class="sp" dy="-5.2">3</tspan></text><text class="tl" x="217.30" y="282.55" text-anchor="middle" transform="rotate(-90 217.30 282.55)">10<tspan class="sp" dy="-5.2">3</tspan></text><text class="tl" x="332.20" y="383.5" text-anchor="middle">10<tspan class="sp" dy="-5.2">4</tspan></text><text class="tl" x="217.30" y="254.20" text-anchor="middle" transform="rotate(-90 217.30 254.20)">10<tspan class="sp" dy="-5.2">4</tspan></text><rect x="404.5" y="254.4" width="106.60000000000002" height="113.20000000000002" fill="none" stroke="#0a0a0a" stroke-width="1.5"/><line x1="404.50" y1="367.60" x2="404.50" y2="372.60" stroke="#0a0a0a" stroke-width="1.3"/><line x1="399.50" y1="367.60" x2="404.50" y2="367.60" stroke="#0a0a0a" stroke-width="1.3"/><line x1="412.52" y1="367.60" x2="412.52" y2="370.60" stroke="#0a0a0a" stroke-width="1.3"/><line x1="401.50" y1="359.08" x2="404.50" y2="359.08" stroke="#0a0a0a" stroke-width="1.3"/><line x1="417.22" y1="367.60" x2="417.22" y2="370.60" stroke="#0a0a0a" stroke-width="1.3"/><line x1="401.50" y1="354.10" x2="404.50" y2="354.10" stroke="#0a0a0a" stroke-width="1.3"/><line x1="420.54" y1="367.60" x2="420.54" y2="370.60" stroke="#0a0a0a" stroke-width="1.3"/><line x1="401.50" y1="350.56" x2="404.50" y2="350.56" stroke="#0a0a0a" stroke-width="1.3"/><line x1="423.13" y1="367.60" x2="423.13" y2="370.60" stroke="#0a0a0a" stroke-width="1.3"/><line x1="401.50" y1="347.82" x2="404.50" y2="347.82" stroke="#0a0a0a" stroke-width="1.3"/><line x1="425.24" y1="367.60" x2="425.24" y2="370.60" stroke="#0a0a0a" stroke-width="1.3"/><line x1="401.50" y1="345.58" x2="404.50" y2="345.58" stroke="#0a0a0a" stroke-width="1.3"/><line x1="427.02" y1="367.60" x2="427.02" y2="370.60" stroke="#0a0a0a" stroke-width="1.3"/><line x1="401.50" y1="343.68" x2="404.50" y2="343.68" stroke="#0a0a0a" stroke-width="1.3"/><line x1="428.57" y1="367.60" x2="428.57" y2="370.60" stroke="#0a0a0a" stroke-width="1.3"/><line x1="401.50" y1="342.04" x2="404.50" y2="342.04" stroke="#0a0a0a" stroke-width="1.3"/><line x1="429.93" y1="367.60" x2="429.93" y2="370.60" stroke="#0a0a0a" stroke-width="1.3"/><line x1="401.50" y1="340.59" x2="404.50" y2="340.59" stroke="#0a0a0a" stroke-width="1.3"/><line x1="431.15" y1="367.60" x2="431.15" y2="372.60" stroke="#0a0a0a" stroke-width="1.3"/><line x1="399.50" y1="339.30" x2="404.50" y2="339.30" stroke="#0a0a0a" stroke-width="1.3"/><line x1="439.17" y1="367.60" x2="439.17" y2="370.60" stroke="#0a0a0a" stroke-width="1.3"/><line x1="401.50" y1="330.78" x2="404.50" y2="330.78" stroke="#0a0a0a" stroke-width="1.3"/><line x1="443.87" y1="367.60" x2="443.87" y2="370.60" stroke="#0a0a0a" stroke-width="1.3"/><line x1="401.50" y1="325.80" x2="404.50" y2="325.80" stroke="#0a0a0a" stroke-width="1.3"/><line x1="447.19" y1="367.60" x2="447.19" y2="370.60" stroke="#0a0a0a" stroke-width="1.3"/><line x1="401.50" y1="322.26" x2="404.50" y2="322.26" stroke="#0a0a0a" stroke-width="1.3"/><line x1="449.78" y1="367.60" x2="449.78" y2="370.60" stroke="#0a0a0a" stroke-width="1.3"/><line x1="401.50" y1="319.52" x2="404.50" y2="319.52" stroke="#0a0a0a" stroke-width="1.3"/><line x1="451.89" y1="367.60" x2="451.89" y2="370.60" stroke="#0a0a0a" stroke-width="1.3"/><line x1="401.50" y1="317.28" x2="404.50" y2="317.28" stroke="#0a0a0a" stroke-width="1.3"/><line x1="453.67" y1="367.60" x2="453.67" y2="370.60" stroke="#0a0a0a" stroke-width="1.3"/><line x1="401.50" y1="315.38" x2="404.50" y2="315.38" stroke="#0a0a0a" stroke-width="1.3"/><line x1="455.22" y1="367.60" x2="455.22" y2="370.60" stroke="#0a0a0a" stroke-width="1.3"/><line x1="401.50" y1="313.74" x2="404.50" y2="313.74" stroke="#0a0a0a" stroke-width="1.3"/><line x1="456.58" y1="367.60" x2="456.58" y2="370.60" stroke="#0a0a0a" stroke-width="1.3"/><line x1="401.50" y1="312.29" x2="404.50" y2="312.29" stroke="#0a0a0a" stroke-width="1.3"/><line x1="457.80" y1="367.60" x2="457.80" y2="372.60" stroke="#0a0a0a" stroke-width="1.3"/><line x1="399.50" y1="311.00" x2="404.50" y2="311.00" stroke="#0a0a0a" stroke-width="1.3"/><line x1="465.82" y1="367.60" x2="465.82" y2="370.60" stroke="#0a0a0a" stroke-width="1.3"/><line x1="401.50" y1="302.48" x2="404.50" y2="302.48" stroke="#0a0a0a" stroke-width="1.3"/><line x1="470.52" y1="367.60" x2="470.52" y2="370.60" stroke="#0a0a0a" stroke-width="1.3"/><line x1="401.50" y1="297.50" x2="404.50" y2="297.50" stroke="#0a0a0a" stroke-width="1.3"/><line x1="473.84" y1="367.60" x2="473.84" y2="370.60" stroke="#0a0a0a" stroke-width="1.3"/><line x1="401.50" y1="293.96" x2="404.50" y2="293.96" stroke="#0a0a0a" stroke-width="1.3"/><line x1="476.43" y1="367.60" x2="476.43" y2="370.60" stroke="#0a0a0a" stroke-width="1.3"/><line x1="401.50" y1="291.22" x2="404.50" y2="291.22" stroke="#0a0a0a" stroke-width="1.3"/><line x1="478.54" y1="367.60" x2="478.54" y2="370.60" stroke="#0a0a0a" stroke-width="1.3"/><line x1="401.50" y1="288.98" x2="404.50" y2="288.98" stroke="#0a0a0a" stroke-width="1.3"/><line x1="480.32" y1="367.60" x2="480.32" y2="370.60" stroke="#0a0a0a" stroke-width="1.3"/><line x1="401.50" y1="287.08" x2="404.50" y2="287.08" stroke="#0a0a0a" stroke-width="1.3"/><line x1="481.87" y1="367.60" x2="481.87" y2="370.60" stroke="#0a0a0a" stroke-width="1.3"/><line x1="401.50" y1="285.44" x2="404.50" y2="285.44" stroke="#0a0a0a" stroke-width="1.3"/><line x1="483.23" y1="367.60" x2="483.23" y2="370.60" stroke="#0a0a0a" stroke-width="1.3"/><line x1="401.50" y1="283.99" x2="404.50" y2="283.99" stroke="#0a0a0a" stroke-width="1.3"/><line x1="484.45" y1="367.60" x2="484.45" y2="372.60" stroke="#0a0a0a" stroke-width="1.3"/><line x1="399.50" y1="282.70" x2="404.50" y2="282.70" stroke="#0a0a0a" stroke-width="1.3"/><line x1="492.47" y1="367.60" x2="492.47" y2="370.60" stroke="#0a0a0a" stroke-width="1.3"/><line x1="401.50" y1="274.18" x2="404.50" y2="274.18" stroke="#0a0a0a" stroke-width="1.3"/><line x1="497.17" y1="367.60" x2="497.17" y2="370.60" stroke="#0a0a0a" stroke-width="1.3"/><line x1="401.50" y1="269.20" x2="404.50" y2="269.20" stroke="#0a0a0a" stroke-width="1.3"/><line x1="500.49" y1="367.60" x2="500.49" y2="370.60" stroke="#0a0a0a" stroke-width="1.3"/><line x1="401.50" y1="265.66" x2="404.50" y2="265.66" stroke="#0a0a0a" stroke-width="1.3"/><line x1="503.08" y1="367.60" x2="503.08" y2="370.60" stroke="#0a0a0a" stroke-width="1.3"/><line x1="401.50" y1="262.92" x2="404.50" y2="262.92" stroke="#0a0a0a" stroke-width="1.3"/><line x1="505.19" y1="367.60" x2="505.19" y2="370.60" stroke="#0a0a0a" stroke-width="1.3"/><line x1="401.50" y1="260.68" x2="404.50" y2="260.68" stroke="#0a0a0a" stroke-width="1.3"/><line x1="506.97" y1="367.60" x2="506.97" y2="370.60" stroke="#0a0a0a" stroke-width="1.3"/><line x1="401.50" y1="258.78" x2="404.50" y2="258.78" stroke="#0a0a0a" stroke-width="1.3"/><line x1="508.52" y1="367.60" x2="508.52" y2="370.60" stroke="#0a0a0a" stroke-width="1.3"/><line x1="401.50" y1="257.14" x2="404.50" y2="257.14" stroke="#0a0a0a" stroke-width="1.3"/><line x1="509.88" y1="367.60" x2="509.88" y2="370.60" stroke="#0a0a0a" stroke-width="1.3"/><line x1="401.50" y1="255.69" x2="404.50" y2="255.69" stroke="#0a0a0a" stroke-width="1.3"/><line x1="511.10" y1="367.60" x2="511.10" y2="372.60" stroke="#0a0a0a" stroke-width="1.3"/><line x1="399.50" y1="254.40" x2="404.50" y2="254.40" stroke="#0a0a0a" stroke-width="1.3"/><line x1="446.80" y1="254.40" x2="446.80" y2="367.60" stroke="#0a0a0a" stroke-width="1.4"/><line x1="404.50" y1="310.80" x2="511.10" y2="310.80" stroke="#0a0a0a" stroke-width="1.4"/><text class="tl" x="403.70" y="382.8" text-anchor="middle">10<tspan class="sp" dy="-5.2">0</tspan></text><text class="tl" x="396.40" y="366.90" text-anchor="middle" transform="rotate(-90 396.40 366.90)">10<tspan class="sp" dy="-5.2">0</tspan></text><text class="tl" x="430.35" y="382.8" text-anchor="middle">10<tspan class="sp" dy="-5.2">1</tspan></text><text class="tl" x="396.40" y="338.60" text-anchor="middle" transform="rotate(-90 396.40 338.60)">10<tspan class="sp" dy="-5.2">1</tspan></text><text class="tl" x="457.00" y="382.8" text-anchor="middle">10<tspan class="sp" dy="-5.2">2</tspan></text><text class="tl" x="396.40" y="310.30" text-anchor="middle" transform="rotate(-90 396.40 310.30)">10<tspan class="sp" dy="-5.2">2</tspan></text><text class="tl" x="483.65" y="382.8" text-anchor="middle">10<tspan class="sp" dy="-5.2">3</tspan></text><text class="tl" x="396.40" y="282.00" text-anchor="middle" transform="rotate(-90 396.40 282.00)">10<tspan class="sp" dy="-5.2">3</tspan></text><text class="tl" x="510.30" y="382.8" text-anchor="middle">10<tspan class="sp" dy="-5.2">4</tspan></text><text class="tl" x="396.40" y="253.70" text-anchor="middle" transform="rotate(-90 396.40 253.70)">10<tspan class="sp" dy="-5.2">4</tspan></text><text x="495" y="269.2" font-size="11.5" font-weight="bold" text-anchor="middle">56%</text><text x="493.6" y="359.7" font-size="11.5" font-weight="bold" text-anchor="middle">0.7%</text><text x="94.5" y="15.5" font-size="18" font-weight="bold" text-anchor="middle">A1</text><text x="279.8" y="15.5" font-size="18" font-weight="bold" text-anchor="middle">A2</text><text x="458.8" y="16" font-size="18" font-weight="bold" text-anchor="middle">A3</text><text x="94.4" y="240.2" font-size="18" font-weight="bold" text-anchor="middle">B1</text><text x="280.6" y="241.2" font-size="18" font-weight="bold" text-anchor="middle">B2</text><text x="458" y="241.2" font-size="18" font-weight="bold" text-anchor="middle">B3</text><text x="92.8" y="178.8" font-size="16" font-weight="bold" text-anchor="middle">FSC</text><text x="278.6" y="178.2" font-size="16" font-weight="bold" text-anchor="middle">IgG1-FITC</text><text x="462" y="179.2" font-size="16" font-weight="bold" text-anchor="middle">CD34-FITC</text><text x="95.6" y="403.8" font-size="16" font-weight="bold" text-anchor="middle">FSC</text><text x="281.7" y="404.2" font-size="16" font-weight="bold" text-anchor="middle">IgG1-FITC</text><text x="460.5" y="404.2" font-size="16" font-weight="bold" text-anchor="middle">CD34-FITC</text><text x="15" y="84.75" font-size="16" font-weight="bold" text-anchor="middle" transform="rotate(-90 15 84.75)">SSC</text><text x="195.6" y="83.2" font-size="16" font-weight="bold" text-anchor="middle" transform="rotate(-90 195.6 83.2)">IgG1-PE</text><text x="378" y="88.2" font-size="16" font-weight="bold" text-anchor="middle" transform="rotate(-90 378 88.2)">CD38-PE</text><text x="16" y="312.5" font-size="16" font-weight="bold" text-anchor="middle" transform="rotate(-90 16 312.5)">SSC</text><text x="198" y="312.4" font-size="16" font-weight="bold" text-anchor="middle" transform="rotate(-90 198 312.4)">IgG1-PE</text><text x="378.3" y="313" font-size="16" font-weight="bold" text-anchor="middle" transform="rotate(-90 378.3 313)">CD38-PE</text>
</svg></body></html>
